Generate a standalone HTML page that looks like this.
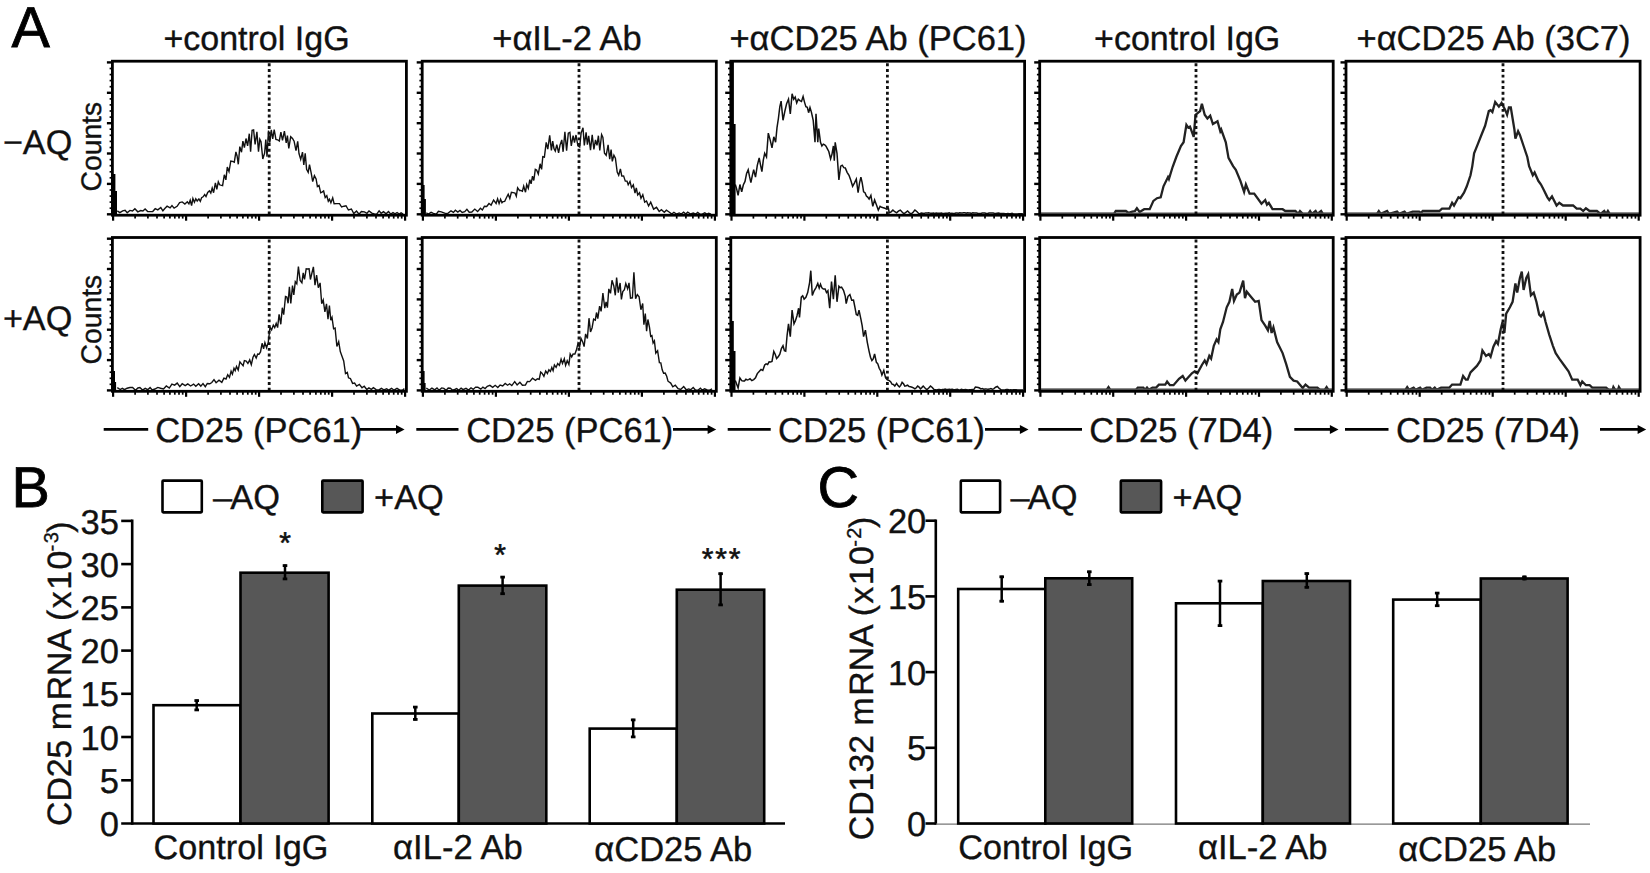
<!DOCTYPE html>
<html lang="en">
<head>
<meta charset="utf-8">
<title>Figure</title>
<style>html,body{margin:0;padding:0;background:#fff;overflow:hidden}svg{display:block;text-rendering:geometricPrecision}</style>
</head>
<body>
<svg width="1650" height="873" viewBox="0 0 1650 873" font-family='"Liberation Sans", Arial, sans-serif' fill="#111" stroke="#111" stroke-width="0">
<rect width="1650" height="873" fill="#fff"/>
<g>
<polyline points="117.3,210.9 119.8,212.6 122.7,210.8 125.1,210.2 127.2,212.7 129.9,210.4 132.5,211 134.9,208.7 137.8,211.8 140.7,210.6 142.9,211 145.1,208.9 147.7,211.6 150.6,211.6 152.7,211.5 155.2,208.7 157.8,209.9 160.8,207.5 162.9,210.8 164.8,208.5 167.1,206.2 170.1,207.9 172,205.5 174.1,208.1 177.1,206.3 179.6,202.6 182.2,201.9 184.9,204 187.3,201.8 188.9,203.9 190.2,200.2 191.6,205.5 192.9,198.5 194.4,202.2 195.8,198.7 197.2,201 198.9,198.9 200.3,201.4 201.6,197.7 203.1,196.8 204.7,194.6 206,196.6 207.7,192.4 209.4,190.8 210.8,193 212.2,188 213.6,192.7 215.4,182.9 216.8,189.4 218.3,181.9 219.6,184.8 220.8,185.2 222.6,185.7 224.3,174.8 225.9,179.8 227.3,167.1 229,171.6 230.8,161 232.5,161.4 234.3,162.2 235.9,151.9 237.1,156 238.3,164.3 239.8,146.6 241.5,152.2 242.9,141.2 244.4,147.7 246,138.5 247.6,145.9 249.3,133.7 250.6,151.8 252.1,130.4 253.6,130 255.1,144.5 256.9,131.9 258.5,151.6 259.8,139.2 261,141.6 262.8,159 264.6,153.2 265.8,139.6 267,156.6 268.5,130.5 269.8,142.7 271.3,129.8 272.7,139 274.2,129.5 275.9,139.4 277.6,139.8 279.3,141 280.9,132.2 282.5,140.4 284.4,131.1 286.2,143 287.4,135.6 288.8,148.4 290.7,136.6 292.5,138.4 294.1,141.2 296,150.6 297.7,141.4 299,153.7 300.7,159.3 302.5,152.1 303.8,165 305.2,153.3 306.6,169.3 308.2,172.3 309.5,164.6 311.3,173.7 312.7,181.6 314.4,175.7 316.1,179 317.4,186.5 319,185.4 320.7,192.8 322,192.1 323.6,191 325.2,197.5 326.8,195.7 328.3,201.2 329.5,199.2 330.9,202.7 332.7,197.8 334.1,203.7 336.8,203.6 339.5,203.6 341.6,207 344.1,206.2 346,205.7 348.4,210 351.4,209 353.8,213.5 356.5,211 359,214.1 361.4,211.5 364.4,211.9 367,213.3 369,210.9 371.8,213.1 374.4,213.9 376.7,214.1 379.1,210.9 381.1,213.3 383.5,211.7 386.1,213.8 388.5,211.5 390.8,214.1 393,212.6 395,213.9 397.1,212.5 399.2,214.1 401.1,212.8 403.1,214.1" fill="none" stroke="#111" stroke-width="1.4" stroke-linejoin="miter" />
<rect x="112.4" y="174" width="3" height="41.2" fill="#000"/>
<rect x="112.4" y="191" width="4.6" height="24.2" fill="#000"/>
<line x1="269.2" y1="63.3" x2="269.2" y2="214.7" stroke="#111" stroke-width="2.8" stroke-dasharray="2.9 2.8"/>
<rect x="112.4" y="61.2" width="294" height="154" fill="none" stroke="#000" stroke-width="2.8"/>
<line x1="106.9" y1="62.4" x2="112.4" y2="62.4" stroke="#000" stroke-width="2.4"/>
<line x1="109.6" y1="68.5" x2="112.4" y2="68.5" stroke="#000" stroke-width="1.7"/>
<line x1="109.6" y1="74.6" x2="112.4" y2="74.6" stroke="#000" stroke-width="1.7"/>
<line x1="109.6" y1="80.6" x2="112.4" y2="80.6" stroke="#000" stroke-width="1.7"/>
<line x1="109.6" y1="86.7" x2="112.4" y2="86.7" stroke="#000" stroke-width="1.7"/>
<line x1="106.9" y1="92.8" x2="112.4" y2="92.8" stroke="#000" stroke-width="2.4"/>
<line x1="109.6" y1="98.9" x2="112.4" y2="98.9" stroke="#000" stroke-width="1.7"/>
<line x1="109.6" y1="104.9" x2="112.4" y2="104.9" stroke="#000" stroke-width="1.7"/>
<line x1="109.6" y1="111" x2="112.4" y2="111" stroke="#000" stroke-width="1.7"/>
<line x1="109.6" y1="117.1" x2="112.4" y2="117.1" stroke="#000" stroke-width="1.7"/>
<line x1="106.9" y1="123.2" x2="112.4" y2="123.2" stroke="#000" stroke-width="2.4"/>
<line x1="109.6" y1="129.2" x2="112.4" y2="129.2" stroke="#000" stroke-width="1.7"/>
<line x1="109.6" y1="135.3" x2="112.4" y2="135.3" stroke="#000" stroke-width="1.7"/>
<line x1="109.6" y1="141.4" x2="112.4" y2="141.4" stroke="#000" stroke-width="1.7"/>
<line x1="109.6" y1="147.5" x2="112.4" y2="147.5" stroke="#000" stroke-width="1.7"/>
<line x1="106.9" y1="153.5" x2="112.4" y2="153.5" stroke="#000" stroke-width="2.4"/>
<line x1="109.6" y1="159.6" x2="112.4" y2="159.6" stroke="#000" stroke-width="1.7"/>
<line x1="109.6" y1="165.7" x2="112.4" y2="165.7" stroke="#000" stroke-width="1.7"/>
<line x1="109.6" y1="171.8" x2="112.4" y2="171.8" stroke="#000" stroke-width="1.7"/>
<line x1="109.6" y1="177.8" x2="112.4" y2="177.8" stroke="#000" stroke-width="1.7"/>
<line x1="106.9" y1="183.9" x2="112.4" y2="183.9" stroke="#000" stroke-width="2.4"/>
<line x1="109.6" y1="190" x2="112.4" y2="190" stroke="#000" stroke-width="1.7"/>
<line x1="109.6" y1="196.1" x2="112.4" y2="196.1" stroke="#000" stroke-width="1.7"/>
<line x1="109.6" y1="202.1" x2="112.4" y2="202.1" stroke="#000" stroke-width="1.7"/>
<line x1="109.6" y1="208.2" x2="112.4" y2="208.2" stroke="#000" stroke-width="1.7"/>
<line x1="106.9" y1="214.3" x2="112.4" y2="214.3" stroke="#000" stroke-width="2.4"/>
<line x1="113.1" y1="215.2" x2="113.1" y2="220.7" stroke="#000" stroke-width="2.2"/>
<line x1="135.1" y1="215.2" x2="135.1" y2="218.6" stroke="#000" stroke-width="1.7"/>
<line x1="147.9" y1="215.2" x2="147.9" y2="218.6" stroke="#000" stroke-width="1.7"/>
<line x1="157" y1="215.2" x2="157" y2="218.6" stroke="#000" stroke-width="1.7"/>
<line x1="164.1" y1="215.2" x2="164.1" y2="218.6" stroke="#000" stroke-width="1.7"/>
<line x1="169.9" y1="215.2" x2="169.9" y2="218.6" stroke="#000" stroke-width="1.7"/>
<line x1="174.8" y1="215.2" x2="174.8" y2="218.6" stroke="#000" stroke-width="1.7"/>
<line x1="179" y1="215.2" x2="179" y2="218.6" stroke="#000" stroke-width="1.7"/>
<line x1="182.7" y1="215.2" x2="182.7" y2="218.6" stroke="#000" stroke-width="1.7"/>
<line x1="186.1" y1="215.2" x2="186.1" y2="220.7" stroke="#000" stroke-width="2.2"/>
<line x1="208.1" y1="215.2" x2="208.1" y2="218.6" stroke="#000" stroke-width="1.7"/>
<line x1="220.9" y1="215.2" x2="220.9" y2="218.6" stroke="#000" stroke-width="1.7"/>
<line x1="230" y1="215.2" x2="230" y2="218.6" stroke="#000" stroke-width="1.7"/>
<line x1="237.1" y1="215.2" x2="237.1" y2="218.6" stroke="#000" stroke-width="1.7"/>
<line x1="242.9" y1="215.2" x2="242.9" y2="218.6" stroke="#000" stroke-width="1.7"/>
<line x1="247.8" y1="215.2" x2="247.8" y2="218.6" stroke="#000" stroke-width="1.7"/>
<line x1="252" y1="215.2" x2="252" y2="218.6" stroke="#000" stroke-width="1.7"/>
<line x1="255.7" y1="215.2" x2="255.7" y2="218.6" stroke="#000" stroke-width="1.7"/>
<line x1="259.1" y1="215.2" x2="259.1" y2="220.7" stroke="#000" stroke-width="2.2"/>
<line x1="281" y1="215.2" x2="281" y2="218.6" stroke="#000" stroke-width="1.7"/>
<line x1="293.9" y1="215.2" x2="293.9" y2="218.6" stroke="#000" stroke-width="1.7"/>
<line x1="303" y1="215.2" x2="303" y2="218.6" stroke="#000" stroke-width="1.7"/>
<line x1="310.1" y1="215.2" x2="310.1" y2="218.6" stroke="#000" stroke-width="1.7"/>
<line x1="315.9" y1="215.2" x2="315.9" y2="218.6" stroke="#000" stroke-width="1.7"/>
<line x1="320.8" y1="215.2" x2="320.8" y2="218.6" stroke="#000" stroke-width="1.7"/>
<line x1="325" y1="215.2" x2="325" y2="218.6" stroke="#000" stroke-width="1.7"/>
<line x1="328.7" y1="215.2" x2="328.7" y2="218.6" stroke="#000" stroke-width="1.7"/>
<line x1="332.1" y1="215.2" x2="332.1" y2="220.7" stroke="#000" stroke-width="2.2"/>
<line x1="354" y1="215.2" x2="354" y2="218.6" stroke="#000" stroke-width="1.7"/>
<line x1="366.9" y1="215.2" x2="366.9" y2="218.6" stroke="#000" stroke-width="1.7"/>
<line x1="376" y1="215.2" x2="376" y2="218.6" stroke="#000" stroke-width="1.7"/>
<line x1="383.1" y1="215.2" x2="383.1" y2="218.6" stroke="#000" stroke-width="1.7"/>
<line x1="388.9" y1="215.2" x2="388.9" y2="218.6" stroke="#000" stroke-width="1.7"/>
<line x1="393.7" y1="215.2" x2="393.7" y2="218.6" stroke="#000" stroke-width="1.7"/>
<line x1="398" y1="215.2" x2="398" y2="218.6" stroke="#000" stroke-width="1.7"/>
<line x1="401.7" y1="215.2" x2="401.7" y2="218.6" stroke="#000" stroke-width="1.7"/>
<line x1="405.1" y1="215.2" x2="405.1" y2="220.7" stroke="#000" stroke-width="2.2"/>
</g>
<g>
<polyline points="426.3,212.8 428.4,214 431.1,212.3 433.4,213.3 436.3,214.1 438.4,211.3 441.3,211.9 443.9,212.8 445.9,213.6 448.2,213.1 451,210.8 453.4,212.4 455.4,210.2 457.8,212.1 460,210.4 462.2,212.4 464.7,211.7 466.9,209.3 469.2,212.3 471.8,212 474.8,209.1 477.6,211.6 480.4,208.2 482.4,210 484.4,206.2 486.7,206.5 489,203.5 491.1,205.1 493.6,200 496.1,203.4 497.6,198.8 499.1,203.6 500.6,199.3 502,202.7 503.2,201.6 504.7,201.4 506.4,197.8 508.2,194.3 509.8,198.5 511.4,192.3 513.2,192.6 515,193 516.3,196.2 517.6,187.8 519.5,190.5 520.7,190.4 522.4,191.2 523.7,186.2 525.5,192.2 526.7,184.6 528.3,188.3 529.8,179.6 531.1,183.8 532.5,176.1 533.8,180.5 535.3,169.4 536.6,170 538.3,174 540.1,163.8 541.6,169.4 542.8,156.7 544.4,157.1 546.2,142.4 547.8,149.2 549.7,135.3 551.4,150.3 552.7,141.1 554,148.7 555.3,151 556.8,144.6 558.6,152.9 560,145.1 561.8,139.9 563.1,151.8 564.9,131.7 566.6,150.8 568.3,133.2 569.9,132.4 571.3,146 573.1,135.6 574.5,142.5 576,135 577.9,145.8 579.7,147 581.1,133.1 583,127.7 584.3,145.5 586.1,132.4 587.4,144.7 588.7,135.8 590.5,150.2 592.2,134.9 593.9,149.5 595.5,139.9 597,145.3 598.4,135.7 599.8,150.5 601.6,134.5 602.9,137.4 604.5,153.2 606.2,155.3 608.1,144.9 609.7,159.1 611.1,149.6 612.3,161.4 613.9,155.2 615.4,158.1 617.2,172 618.7,175.2 620.4,169 621.8,176.1 623.6,175.9 625.3,181.1 627,181.1 628.2,184.8 630,181.4 631.5,187.6 633.3,184.9 635,193.2 636.3,188 637.7,194.9 639.5,192.7 641,198.3 642.8,194.7 644.7,202.1 646.5,201 648.6,206 650.7,202.2 653.6,209.1 656.5,207.3 659.2,211.5 661.4,209.7 664.3,212.3 666.4,210.2 669.1,212 671.8,214.1 673.9,212.3 676.4,214.1 679.2,212.9 681.3,214 683.6,212.2 685.8,214.1 687.7,212.2 690.6,214 693.3,213.1 695.8,214.1 697.7,212.5 699.8,214.1 702.2,214.1 704.8,212.8 706.7,214.1 708.7,213.2 711,214.1" fill="none" stroke="#111" stroke-width="1.4" stroke-linejoin="miter" />
<rect x="422.2" y="185" width="2.4" height="30.2" fill="#000"/>
<rect x="422.2" y="199" width="3.7" height="16.2" fill="#000"/>
<line x1="579" y1="63.3" x2="579" y2="214.7" stroke="#111" stroke-width="2.8" stroke-dasharray="2.9 2.8"/>
<rect x="422.2" y="61.2" width="294.1" height="154" fill="none" stroke="#000" stroke-width="2.8"/>
<line x1="416.7" y1="62.4" x2="422.2" y2="62.4" stroke="#000" stroke-width="2.4"/>
<line x1="419.4" y1="68.5" x2="422.2" y2="68.5" stroke="#000" stroke-width="1.7"/>
<line x1="419.4" y1="74.6" x2="422.2" y2="74.6" stroke="#000" stroke-width="1.7"/>
<line x1="419.4" y1="80.6" x2="422.2" y2="80.6" stroke="#000" stroke-width="1.7"/>
<line x1="419.4" y1="86.7" x2="422.2" y2="86.7" stroke="#000" stroke-width="1.7"/>
<line x1="416.7" y1="92.8" x2="422.2" y2="92.8" stroke="#000" stroke-width="2.4"/>
<line x1="419.4" y1="98.9" x2="422.2" y2="98.9" stroke="#000" stroke-width="1.7"/>
<line x1="419.4" y1="104.9" x2="422.2" y2="104.9" stroke="#000" stroke-width="1.7"/>
<line x1="419.4" y1="111" x2="422.2" y2="111" stroke="#000" stroke-width="1.7"/>
<line x1="419.4" y1="117.1" x2="422.2" y2="117.1" stroke="#000" stroke-width="1.7"/>
<line x1="416.7" y1="123.2" x2="422.2" y2="123.2" stroke="#000" stroke-width="2.4"/>
<line x1="419.4" y1="129.2" x2="422.2" y2="129.2" stroke="#000" stroke-width="1.7"/>
<line x1="419.4" y1="135.3" x2="422.2" y2="135.3" stroke="#000" stroke-width="1.7"/>
<line x1="419.4" y1="141.4" x2="422.2" y2="141.4" stroke="#000" stroke-width="1.7"/>
<line x1="419.4" y1="147.5" x2="422.2" y2="147.5" stroke="#000" stroke-width="1.7"/>
<line x1="416.7" y1="153.5" x2="422.2" y2="153.5" stroke="#000" stroke-width="2.4"/>
<line x1="419.4" y1="159.6" x2="422.2" y2="159.6" stroke="#000" stroke-width="1.7"/>
<line x1="419.4" y1="165.7" x2="422.2" y2="165.7" stroke="#000" stroke-width="1.7"/>
<line x1="419.4" y1="171.8" x2="422.2" y2="171.8" stroke="#000" stroke-width="1.7"/>
<line x1="419.4" y1="177.8" x2="422.2" y2="177.8" stroke="#000" stroke-width="1.7"/>
<line x1="416.7" y1="183.9" x2="422.2" y2="183.9" stroke="#000" stroke-width="2.4"/>
<line x1="419.4" y1="190" x2="422.2" y2="190" stroke="#000" stroke-width="1.7"/>
<line x1="419.4" y1="196.1" x2="422.2" y2="196.1" stroke="#000" stroke-width="1.7"/>
<line x1="419.4" y1="202.1" x2="422.2" y2="202.1" stroke="#000" stroke-width="1.7"/>
<line x1="419.4" y1="208.2" x2="422.2" y2="208.2" stroke="#000" stroke-width="1.7"/>
<line x1="416.7" y1="214.3" x2="422.2" y2="214.3" stroke="#000" stroke-width="2.4"/>
<line x1="422.9" y1="215.2" x2="422.9" y2="220.7" stroke="#000" stroke-width="2.2"/>
<line x1="444.9" y1="215.2" x2="444.9" y2="218.6" stroke="#000" stroke-width="1.7"/>
<line x1="457.7" y1="215.2" x2="457.7" y2="218.6" stroke="#000" stroke-width="1.7"/>
<line x1="466.9" y1="215.2" x2="466.9" y2="218.6" stroke="#000" stroke-width="1.7"/>
<line x1="473.9" y1="215.2" x2="473.9" y2="218.6" stroke="#000" stroke-width="1.7"/>
<line x1="479.7" y1="215.2" x2="479.7" y2="218.6" stroke="#000" stroke-width="1.7"/>
<line x1="484.6" y1="215.2" x2="484.6" y2="218.6" stroke="#000" stroke-width="1.7"/>
<line x1="488.8" y1="215.2" x2="488.8" y2="218.6" stroke="#000" stroke-width="1.7"/>
<line x1="492.6" y1="215.2" x2="492.6" y2="218.6" stroke="#000" stroke-width="1.7"/>
<line x1="495.9" y1="215.2" x2="495.9" y2="220.7" stroke="#000" stroke-width="2.2"/>
<line x1="517.9" y1="215.2" x2="517.9" y2="218.6" stroke="#000" stroke-width="1.7"/>
<line x1="530.7" y1="215.2" x2="530.7" y2="218.6" stroke="#000" stroke-width="1.7"/>
<line x1="539.9" y1="215.2" x2="539.9" y2="218.6" stroke="#000" stroke-width="1.7"/>
<line x1="546.9" y1="215.2" x2="546.9" y2="218.6" stroke="#000" stroke-width="1.7"/>
<line x1="552.7" y1="215.2" x2="552.7" y2="218.6" stroke="#000" stroke-width="1.7"/>
<line x1="557.6" y1="215.2" x2="557.6" y2="218.6" stroke="#000" stroke-width="1.7"/>
<line x1="561.8" y1="215.2" x2="561.8" y2="218.6" stroke="#000" stroke-width="1.7"/>
<line x1="565.6" y1="215.2" x2="565.6" y2="218.6" stroke="#000" stroke-width="1.7"/>
<line x1="568.9" y1="215.2" x2="568.9" y2="220.7" stroke="#000" stroke-width="2.2"/>
<line x1="590.9" y1="215.2" x2="590.9" y2="218.6" stroke="#000" stroke-width="1.7"/>
<line x1="603.7" y1="215.2" x2="603.7" y2="218.6" stroke="#000" stroke-width="1.7"/>
<line x1="612.9" y1="215.2" x2="612.9" y2="218.6" stroke="#000" stroke-width="1.7"/>
<line x1="619.9" y1="215.2" x2="619.9" y2="218.6" stroke="#000" stroke-width="1.7"/>
<line x1="625.7" y1="215.2" x2="625.7" y2="218.6" stroke="#000" stroke-width="1.7"/>
<line x1="630.6" y1="215.2" x2="630.6" y2="218.6" stroke="#000" stroke-width="1.7"/>
<line x1="634.8" y1="215.2" x2="634.8" y2="218.6" stroke="#000" stroke-width="1.7"/>
<line x1="638.6" y1="215.2" x2="638.6" y2="218.6" stroke="#000" stroke-width="1.7"/>
<line x1="641.9" y1="215.2" x2="641.9" y2="220.7" stroke="#000" stroke-width="2.2"/>
<line x1="663.9" y1="215.2" x2="663.9" y2="218.6" stroke="#000" stroke-width="1.7"/>
<line x1="676.7" y1="215.2" x2="676.7" y2="218.6" stroke="#000" stroke-width="1.7"/>
<line x1="685.9" y1="215.2" x2="685.9" y2="218.6" stroke="#000" stroke-width="1.7"/>
<line x1="692.9" y1="215.2" x2="692.9" y2="218.6" stroke="#000" stroke-width="1.7"/>
<line x1="698.7" y1="215.2" x2="698.7" y2="218.6" stroke="#000" stroke-width="1.7"/>
<line x1="703.6" y1="215.2" x2="703.6" y2="218.6" stroke="#000" stroke-width="1.7"/>
<line x1="707.8" y1="215.2" x2="707.8" y2="218.6" stroke="#000" stroke-width="1.7"/>
<line x1="711.6" y1="215.2" x2="711.6" y2="218.6" stroke="#000" stroke-width="1.7"/>
<line x1="714.9" y1="215.2" x2="714.9" y2="220.7" stroke="#000" stroke-width="2.2"/>
</g>
<g>
<polyline points="735.3,184.5 736.7,189.3 738.1,195.4 739.9,184.5 741.7,191.8 743.3,185 745,181.4 746.6,173.4 748.2,169.8 749.5,176.4 750.9,182.6 752.3,175.6 753.7,169.8 755.5,177.1 757.3,165.4 759.2,157.9 760.5,164.8 761.9,171.6 763.3,160.1 764.7,153.3 766.5,157 768.3,133.1 770.2,140.1 772,147.8 773.8,136.8 775.6,142.3 777,127.6 778.4,118.5 779.8,106.8 781.1,101.1 783,120.3 784.8,111.5 786.6,103.8 788.5,99.2 790.3,113.9 792.1,93.7 793.7,99.3 795.2,97 796.7,102.9 798.3,99.2 799.9,100.6 801.5,101.5 803.1,96.5 804.5,102.1 805.9,106.6 807.3,107.2 808.6,112.7 810,107.5 811.4,112.1 813.2,120.3 815,142.3 816,113.9 817.8,142.3 818.7,128.6 820.5,142.3 821.9,145.9 823.3,144.1 824.7,144.8 826,146.2 827.4,148.9 828.8,151.5 830.6,158.8 832,154.1 833.4,146 834.3,160.6 835.2,142.3 837,153.3 838.9,179.9 840.7,166.1 842.2,165.2 843.8,167.7 845.3,168 847.1,172.3 849,175.3 850.8,180.3 852.6,186.3 854.5,182.8 856.3,179 858.1,192.7 859.5,183.2 860.9,177.1 862.2,182.8 863.6,191.8 865,192.7 866.4,196 867.7,197.1 869.1,199.1 870.9,195.4 872.8,206.4 874.6,200 876.4,204.7 878.3,210.1 880.1,206.4 881.7,207.3 883.3,207.7 884.9,208.2 886.5,209.2 888.4,208.3 889.3,212.9 891.1,211.8 892.9,210.1 894.8,211.7 896.6,212.9 898.4,211.2 900.3,210.1 902.1,212 903.9,213.8 905.8,212.4 907.6,211 909.4,212.8 911.3,213.8 913.1,212.2 914.9,210.1 916.8,211.5 918.6,213.4 920,213.7 921.3,213 922.7,213.2 924.1,213.4 925.5,212.9 926.8,213.1 928.2,212.7 929.6,213 930.9,213.2 932.2,213.3 933.5,213.1 934.8,213.4 936.1,213 937.4,213.3 938.8,213.2 940.1,213.2 941.4,213.1 942.7,213.4 944,213.5 945.3,213.2 946.6,213.3 947.9,213.2 949.2,212.9 950.5,213.4 951.8,213.3 953.2,213.6 954.5,213.4 955.8,213 957.1,213.1 958.4,213.3 959.7,212.8 961,213.1 962.3,212.9 963.6,212.8 964.9,212.8 966.2,213.3 967.5,212.8 968.9,212.9 970.2,213 971.5,213.4 972.8,212.7 974.1,213 975.4,213 976.8,213.1 978.1,213.4 979.5,213.4 980.8,213.4 982.2,213 983.5,213.1 984.9,213.1 986.2,213.5 987.6,213.6 988.9,213 990.3,213 991.6,213.1 993,213.1 994.3,213.3 995.7,213.4 997,213.2 998.4,213 999.7,213.3 1001.1,213.4 1002.4,213.4 1003.8,213.5 1005.2,213.8 1006.6,213.7 1007.9,213.6 1009.3,213.7 1010.7,213.8 1012.1,213.4 1013.4,213.9 1014.8,213.9 1016.2,214 1017.6,214 1018.9,213.8 1020.3,213.8 1021.7,213.7 1023.1,214" fill="none" stroke="#111" stroke-width="1.5" stroke-linejoin="miter" />
<rect x="730.8" y="61.2" width="3.1" height="154" fill="#000"/>
<rect x="730.8" y="124" width="4.8" height="91.2" fill="#000"/>
<line x1="887.4" y1="63.3" x2="887.4" y2="214.7" stroke="#111" stroke-width="2.8" stroke-dasharray="2.9 2.8"/>
<rect x="730.8" y="61.2" width="293.8" height="154" fill="none" stroke="#000" stroke-width="2.8"/>
<line x1="725.2" y1="62.4" x2="730.8" y2="62.4" stroke="#000" stroke-width="2.4"/>
<line x1="728" y1="68.5" x2="730.8" y2="68.5" stroke="#000" stroke-width="1.7"/>
<line x1="728" y1="74.6" x2="730.8" y2="74.6" stroke="#000" stroke-width="1.7"/>
<line x1="728" y1="80.6" x2="730.8" y2="80.6" stroke="#000" stroke-width="1.7"/>
<line x1="728" y1="86.7" x2="730.8" y2="86.7" stroke="#000" stroke-width="1.7"/>
<line x1="725.2" y1="92.8" x2="730.8" y2="92.8" stroke="#000" stroke-width="2.4"/>
<line x1="728" y1="98.9" x2="730.8" y2="98.9" stroke="#000" stroke-width="1.7"/>
<line x1="728" y1="104.9" x2="730.8" y2="104.9" stroke="#000" stroke-width="1.7"/>
<line x1="728" y1="111" x2="730.8" y2="111" stroke="#000" stroke-width="1.7"/>
<line x1="728" y1="117.1" x2="730.8" y2="117.1" stroke="#000" stroke-width="1.7"/>
<line x1="725.2" y1="123.2" x2="730.8" y2="123.2" stroke="#000" stroke-width="2.4"/>
<line x1="728" y1="129.2" x2="730.8" y2="129.2" stroke="#000" stroke-width="1.7"/>
<line x1="728" y1="135.3" x2="730.8" y2="135.3" stroke="#000" stroke-width="1.7"/>
<line x1="728" y1="141.4" x2="730.8" y2="141.4" stroke="#000" stroke-width="1.7"/>
<line x1="728" y1="147.5" x2="730.8" y2="147.5" stroke="#000" stroke-width="1.7"/>
<line x1="725.2" y1="153.5" x2="730.8" y2="153.5" stroke="#000" stroke-width="2.4"/>
<line x1="728" y1="159.6" x2="730.8" y2="159.6" stroke="#000" stroke-width="1.7"/>
<line x1="728" y1="165.7" x2="730.8" y2="165.7" stroke="#000" stroke-width="1.7"/>
<line x1="728" y1="171.8" x2="730.8" y2="171.8" stroke="#000" stroke-width="1.7"/>
<line x1="728" y1="177.8" x2="730.8" y2="177.8" stroke="#000" stroke-width="1.7"/>
<line x1="725.2" y1="183.9" x2="730.8" y2="183.9" stroke="#000" stroke-width="2.4"/>
<line x1="728" y1="190" x2="730.8" y2="190" stroke="#000" stroke-width="1.7"/>
<line x1="728" y1="196.1" x2="730.8" y2="196.1" stroke="#000" stroke-width="1.7"/>
<line x1="728" y1="202.1" x2="730.8" y2="202.1" stroke="#000" stroke-width="1.7"/>
<line x1="728" y1="208.2" x2="730.8" y2="208.2" stroke="#000" stroke-width="1.7"/>
<line x1="725.2" y1="214.3" x2="730.8" y2="214.3" stroke="#000" stroke-width="2.4"/>
<line x1="731.5" y1="215.2" x2="731.5" y2="220.7" stroke="#000" stroke-width="2.2"/>
<line x1="753.4" y1="215.2" x2="753.4" y2="218.6" stroke="#000" stroke-width="1.7"/>
<line x1="766.2" y1="215.2" x2="766.2" y2="218.6" stroke="#000" stroke-width="1.7"/>
<line x1="775.4" y1="215.2" x2="775.4" y2="218.6" stroke="#000" stroke-width="1.7"/>
<line x1="782.4" y1="215.2" x2="782.4" y2="218.6" stroke="#000" stroke-width="1.7"/>
<line x1="788.2" y1="215.2" x2="788.2" y2="218.6" stroke="#000" stroke-width="1.7"/>
<line x1="793.1" y1="215.2" x2="793.1" y2="218.6" stroke="#000" stroke-width="1.7"/>
<line x1="797.3" y1="215.2" x2="797.3" y2="218.6" stroke="#000" stroke-width="1.7"/>
<line x1="801" y1="215.2" x2="801" y2="218.6" stroke="#000" stroke-width="1.7"/>
<line x1="804.4" y1="215.2" x2="804.4" y2="220.7" stroke="#000" stroke-width="2.2"/>
<line x1="826.3" y1="215.2" x2="826.3" y2="218.6" stroke="#000" stroke-width="1.7"/>
<line x1="839.2" y1="215.2" x2="839.2" y2="218.6" stroke="#000" stroke-width="1.7"/>
<line x1="848.3" y1="215.2" x2="848.3" y2="218.6" stroke="#000" stroke-width="1.7"/>
<line x1="855.3" y1="215.2" x2="855.3" y2="218.6" stroke="#000" stroke-width="1.7"/>
<line x1="861.1" y1="215.2" x2="861.1" y2="218.6" stroke="#000" stroke-width="1.7"/>
<line x1="866" y1="215.2" x2="866" y2="218.6" stroke="#000" stroke-width="1.7"/>
<line x1="870.2" y1="215.2" x2="870.2" y2="218.6" stroke="#000" stroke-width="1.7"/>
<line x1="874" y1="215.2" x2="874" y2="218.6" stroke="#000" stroke-width="1.7"/>
<line x1="877.3" y1="215.2" x2="877.3" y2="220.7" stroke="#000" stroke-width="2.2"/>
<line x1="899.3" y1="215.2" x2="899.3" y2="218.6" stroke="#000" stroke-width="1.7"/>
<line x1="912.1" y1="215.2" x2="912.1" y2="218.6" stroke="#000" stroke-width="1.7"/>
<line x1="921.2" y1="215.2" x2="921.2" y2="218.6" stroke="#000" stroke-width="1.7"/>
<line x1="928.3" y1="215.2" x2="928.3" y2="218.6" stroke="#000" stroke-width="1.7"/>
<line x1="934" y1="215.2" x2="934" y2="218.6" stroke="#000" stroke-width="1.7"/>
<line x1="938.9" y1="215.2" x2="938.9" y2="218.6" stroke="#000" stroke-width="1.7"/>
<line x1="943.2" y1="215.2" x2="943.2" y2="218.6" stroke="#000" stroke-width="1.7"/>
<line x1="946.9" y1="215.2" x2="946.9" y2="218.6" stroke="#000" stroke-width="1.7"/>
<line x1="950.2" y1="215.2" x2="950.2" y2="220.7" stroke="#000" stroke-width="2.2"/>
<line x1="972.2" y1="215.2" x2="972.2" y2="218.6" stroke="#000" stroke-width="1.7"/>
<line x1="985" y1="215.2" x2="985" y2="218.6" stroke="#000" stroke-width="1.7"/>
<line x1="994.1" y1="215.2" x2="994.1" y2="218.6" stroke="#000" stroke-width="1.7"/>
<line x1="1001.2" y1="215.2" x2="1001.2" y2="218.6" stroke="#000" stroke-width="1.7"/>
<line x1="1007" y1="215.2" x2="1007" y2="218.6" stroke="#000" stroke-width="1.7"/>
<line x1="1011.9" y1="215.2" x2="1011.9" y2="218.6" stroke="#000" stroke-width="1.7"/>
<line x1="1016.1" y1="215.2" x2="1016.1" y2="218.6" stroke="#000" stroke-width="1.7"/>
<line x1="1019.8" y1="215.2" x2="1019.8" y2="218.6" stroke="#000" stroke-width="1.7"/>
<line x1="1023.1" y1="215.2" x2="1023.1" y2="220.7" stroke="#000" stroke-width="2.2"/>
</g>
<g>
<polyline points="1040.7,213.8 1114,213.8 1115.8,211 1125.9,211 1128.6,212.9 1132.3,211.6 1135,211 1136.9,208.3 1139.6,211.9 1144.2,209.2 1149.7,209.2 1153.4,200.9 1157,198.2 1160.7,197.3 1163.5,186.3 1168,177.1 1168.9,179 1172.6,167 1176.3,157 1180.9,146 1183.6,142.3 1186.4,124.9 1188.2,127.6 1190,126.7 1193.7,136.8 1195.5,114.8 1200.1,111.1 1201.9,103.8 1204.7,114.8 1207.4,118.5 1210.2,115.7 1212.9,124 1217.5,121.2 1220.3,131.3 1221.2,129.5 1225.8,142.3 1228.5,157.9 1233.1,166.1 1235.8,169.8 1240.4,180.8 1244.1,191.8 1245.9,184.5 1249.6,193.6 1254.2,193.6 1261.5,203.7 1265.2,200 1267,204.6 1268.8,202.8 1272.5,209.2 1282.6,209.2 1285.3,211 1295.4,211 1298.1,213.8 1300,211 1302.7,213.8 1308.2,213.8 1310.1,211 1311.9,213.8 1315.6,211 1317.4,213.8 1321.1,211 1322.9,213.8 1332.1,213.8" fill="none" stroke="#222" stroke-width="2.3" stroke-linejoin="miter" stroke-linecap="round" stroke-linejoin="round"/>
<line x1="1039.7" y1="213.4" x2="1333.2" y2="213.4" stroke="#555" stroke-width="2"/>
<line x1="1196" y1="63.3" x2="1196" y2="214.7" stroke="#111" stroke-width="2.8" stroke-dasharray="2.9 2.8"/>
<rect x="1039.7" y="61.2" width="293.5" height="154" fill="none" stroke="#000" stroke-width="2.8"/>
<line x1="1034.2" y1="62.4" x2="1039.7" y2="62.4" stroke="#000" stroke-width="2.4"/>
<line x1="1036.9" y1="68.5" x2="1039.7" y2="68.5" stroke="#000" stroke-width="1.7"/>
<line x1="1036.9" y1="74.6" x2="1039.7" y2="74.6" stroke="#000" stroke-width="1.7"/>
<line x1="1036.9" y1="80.6" x2="1039.7" y2="80.6" stroke="#000" stroke-width="1.7"/>
<line x1="1036.9" y1="86.7" x2="1039.7" y2="86.7" stroke="#000" stroke-width="1.7"/>
<line x1="1034.2" y1="92.8" x2="1039.7" y2="92.8" stroke="#000" stroke-width="2.4"/>
<line x1="1036.9" y1="98.9" x2="1039.7" y2="98.9" stroke="#000" stroke-width="1.7"/>
<line x1="1036.9" y1="104.9" x2="1039.7" y2="104.9" stroke="#000" stroke-width="1.7"/>
<line x1="1036.9" y1="111" x2="1039.7" y2="111" stroke="#000" stroke-width="1.7"/>
<line x1="1036.9" y1="117.1" x2="1039.7" y2="117.1" stroke="#000" stroke-width="1.7"/>
<line x1="1034.2" y1="123.2" x2="1039.7" y2="123.2" stroke="#000" stroke-width="2.4"/>
<line x1="1036.9" y1="129.2" x2="1039.7" y2="129.2" stroke="#000" stroke-width="1.7"/>
<line x1="1036.9" y1="135.3" x2="1039.7" y2="135.3" stroke="#000" stroke-width="1.7"/>
<line x1="1036.9" y1="141.4" x2="1039.7" y2="141.4" stroke="#000" stroke-width="1.7"/>
<line x1="1036.9" y1="147.5" x2="1039.7" y2="147.5" stroke="#000" stroke-width="1.7"/>
<line x1="1034.2" y1="153.5" x2="1039.7" y2="153.5" stroke="#000" stroke-width="2.4"/>
<line x1="1036.9" y1="159.6" x2="1039.7" y2="159.6" stroke="#000" stroke-width="1.7"/>
<line x1="1036.9" y1="165.7" x2="1039.7" y2="165.7" stroke="#000" stroke-width="1.7"/>
<line x1="1036.9" y1="171.8" x2="1039.7" y2="171.8" stroke="#000" stroke-width="1.7"/>
<line x1="1036.9" y1="177.8" x2="1039.7" y2="177.8" stroke="#000" stroke-width="1.7"/>
<line x1="1034.2" y1="183.9" x2="1039.7" y2="183.9" stroke="#000" stroke-width="2.4"/>
<line x1="1036.9" y1="190" x2="1039.7" y2="190" stroke="#000" stroke-width="1.7"/>
<line x1="1036.9" y1="196.1" x2="1039.7" y2="196.1" stroke="#000" stroke-width="1.7"/>
<line x1="1036.9" y1="202.1" x2="1039.7" y2="202.1" stroke="#000" stroke-width="1.7"/>
<line x1="1036.9" y1="208.2" x2="1039.7" y2="208.2" stroke="#000" stroke-width="1.7"/>
<line x1="1034.2" y1="214.3" x2="1039.7" y2="214.3" stroke="#000" stroke-width="2.4"/>
<line x1="1040.4" y1="215.2" x2="1040.4" y2="220.7" stroke="#000" stroke-width="2.2"/>
<line x1="1062.3" y1="215.2" x2="1062.3" y2="218.6" stroke="#000" stroke-width="1.7"/>
<line x1="1075.2" y1="215.2" x2="1075.2" y2="218.6" stroke="#000" stroke-width="1.7"/>
<line x1="1084.3" y1="215.2" x2="1084.3" y2="218.6" stroke="#000" stroke-width="1.7"/>
<line x1="1091.3" y1="215.2" x2="1091.3" y2="218.6" stroke="#000" stroke-width="1.7"/>
<line x1="1097.1" y1="215.2" x2="1097.1" y2="218.6" stroke="#000" stroke-width="1.7"/>
<line x1="1102" y1="215.2" x2="1102" y2="218.6" stroke="#000" stroke-width="1.7"/>
<line x1="1106.2" y1="215.2" x2="1106.2" y2="218.6" stroke="#000" stroke-width="1.7"/>
<line x1="1109.9" y1="215.2" x2="1109.9" y2="218.6" stroke="#000" stroke-width="1.7"/>
<line x1="1113.2" y1="215.2" x2="1113.2" y2="220.7" stroke="#000" stroke-width="2.2"/>
<line x1="1135.2" y1="215.2" x2="1135.2" y2="218.6" stroke="#000" stroke-width="1.7"/>
<line x1="1148" y1="215.2" x2="1148" y2="218.6" stroke="#000" stroke-width="1.7"/>
<line x1="1157.1" y1="215.2" x2="1157.1" y2="218.6" stroke="#000" stroke-width="1.7"/>
<line x1="1164.2" y1="215.2" x2="1164.2" y2="218.6" stroke="#000" stroke-width="1.7"/>
<line x1="1169.9" y1="215.2" x2="1169.9" y2="218.6" stroke="#000" stroke-width="1.7"/>
<line x1="1174.8" y1="215.2" x2="1174.8" y2="218.6" stroke="#000" stroke-width="1.7"/>
<line x1="1179" y1="215.2" x2="1179" y2="218.6" stroke="#000" stroke-width="1.7"/>
<line x1="1182.8" y1="215.2" x2="1182.8" y2="218.6" stroke="#000" stroke-width="1.7"/>
<line x1="1186.1" y1="215.2" x2="1186.1" y2="220.7" stroke="#000" stroke-width="2.2"/>
<line x1="1208" y1="215.2" x2="1208" y2="218.6" stroke="#000" stroke-width="1.7"/>
<line x1="1220.9" y1="215.2" x2="1220.9" y2="218.6" stroke="#000" stroke-width="1.7"/>
<line x1="1230" y1="215.2" x2="1230" y2="218.6" stroke="#000" stroke-width="1.7"/>
<line x1="1237" y1="215.2" x2="1237" y2="218.6" stroke="#000" stroke-width="1.7"/>
<line x1="1242.8" y1="215.2" x2="1242.8" y2="218.6" stroke="#000" stroke-width="1.7"/>
<line x1="1247.7" y1="215.2" x2="1247.7" y2="218.6" stroke="#000" stroke-width="1.7"/>
<line x1="1251.9" y1="215.2" x2="1251.9" y2="218.6" stroke="#000" stroke-width="1.7"/>
<line x1="1255.6" y1="215.2" x2="1255.6" y2="218.6" stroke="#000" stroke-width="1.7"/>
<line x1="1259" y1="215.2" x2="1259" y2="220.7" stroke="#000" stroke-width="2.2"/>
<line x1="1280.9" y1="215.2" x2="1280.9" y2="218.6" stroke="#000" stroke-width="1.7"/>
<line x1="1293.7" y1="215.2" x2="1293.7" y2="218.6" stroke="#000" stroke-width="1.7"/>
<line x1="1302.8" y1="215.2" x2="1302.8" y2="218.6" stroke="#000" stroke-width="1.7"/>
<line x1="1309.9" y1="215.2" x2="1309.9" y2="218.6" stroke="#000" stroke-width="1.7"/>
<line x1="1315.6" y1="215.2" x2="1315.6" y2="218.6" stroke="#000" stroke-width="1.7"/>
<line x1="1320.5" y1="215.2" x2="1320.5" y2="218.6" stroke="#000" stroke-width="1.7"/>
<line x1="1324.7" y1="215.2" x2="1324.7" y2="218.6" stroke="#000" stroke-width="1.7"/>
<line x1="1328.5" y1="215.2" x2="1328.5" y2="218.6" stroke="#000" stroke-width="1.7"/>
<line x1="1331.8" y1="215.2" x2="1331.8" y2="220.7" stroke="#000" stroke-width="2.2"/>
</g>
<g>
<polyline points="1347.7,213.8 1377,213.8 1378.8,211 1380.7,213.8 1387.1,211 1388.9,213.8 1397.1,211.6 1399,213.8 1404.5,211.6 1406.3,213.8 1412.7,211.6 1419.1,211.6 1421,212.9 1422.8,211 1439.3,211 1442,208.6 1449.4,208.6 1452.1,202.8 1454,205.5 1458.5,197.3 1460.4,198.2 1464,192.7 1466.8,186.3 1470.5,175.3 1472.3,166.1 1474.1,153.3 1477.8,144.1 1481.4,135 1485.1,125.8 1488.8,111.1 1490.6,110.2 1492.4,112.1 1495.2,102 1498.9,106.6 1501.6,102.9 1505.3,110.2 1507.1,114.8 1508.9,107.5 1510.8,107.5 1512.6,118.5 1514.4,129.5 1515.4,138.6 1518.1,131.3 1519.9,135 1523.6,146 1527.3,157 1529.1,166.1 1532.8,175.3 1534.6,172.5 1538.3,180.8 1541,184.5 1543.8,189.9 1547.4,197.3 1549.3,200 1552,196.4 1556.6,205.5 1559.3,202.8 1563,205.5 1573.1,205.5 1576.7,208.6 1580.4,208.6 1583.2,211 1585.9,208.3 1589.6,211 1596.9,211 1600.6,213.8 1604.2,211 1606.1,213.8 1607.9,211 1609.7,213.8 1639.1,213.8" fill="none" stroke="#222" stroke-width="2.3" stroke-linejoin="miter" stroke-linecap="round" stroke-linejoin="round"/>
<line x1="1346" y1="213.4" x2="1640.1" y2="213.4" stroke="#555" stroke-width="2"/>
<line x1="1503" y1="63.3" x2="1503" y2="214.7" stroke="#111" stroke-width="2.8" stroke-dasharray="2.9 2.8"/>
<rect x="1346" y="61.2" width="294.1" height="154" fill="none" stroke="#000" stroke-width="2.8"/>
<line x1="1340.5" y1="62.4" x2="1346" y2="62.4" stroke="#000" stroke-width="2.4"/>
<line x1="1343.2" y1="68.5" x2="1346" y2="68.5" stroke="#000" stroke-width="1.7"/>
<line x1="1343.2" y1="74.6" x2="1346" y2="74.6" stroke="#000" stroke-width="1.7"/>
<line x1="1343.2" y1="80.6" x2="1346" y2="80.6" stroke="#000" stroke-width="1.7"/>
<line x1="1343.2" y1="86.7" x2="1346" y2="86.7" stroke="#000" stroke-width="1.7"/>
<line x1="1340.5" y1="92.8" x2="1346" y2="92.8" stroke="#000" stroke-width="2.4"/>
<line x1="1343.2" y1="98.9" x2="1346" y2="98.9" stroke="#000" stroke-width="1.7"/>
<line x1="1343.2" y1="104.9" x2="1346" y2="104.9" stroke="#000" stroke-width="1.7"/>
<line x1="1343.2" y1="111" x2="1346" y2="111" stroke="#000" stroke-width="1.7"/>
<line x1="1343.2" y1="117.1" x2="1346" y2="117.1" stroke="#000" stroke-width="1.7"/>
<line x1="1340.5" y1="123.2" x2="1346" y2="123.2" stroke="#000" stroke-width="2.4"/>
<line x1="1343.2" y1="129.2" x2="1346" y2="129.2" stroke="#000" stroke-width="1.7"/>
<line x1="1343.2" y1="135.3" x2="1346" y2="135.3" stroke="#000" stroke-width="1.7"/>
<line x1="1343.2" y1="141.4" x2="1346" y2="141.4" stroke="#000" stroke-width="1.7"/>
<line x1="1343.2" y1="147.5" x2="1346" y2="147.5" stroke="#000" stroke-width="1.7"/>
<line x1="1340.5" y1="153.5" x2="1346" y2="153.5" stroke="#000" stroke-width="2.4"/>
<line x1="1343.2" y1="159.6" x2="1346" y2="159.6" stroke="#000" stroke-width="1.7"/>
<line x1="1343.2" y1="165.7" x2="1346" y2="165.7" stroke="#000" stroke-width="1.7"/>
<line x1="1343.2" y1="171.8" x2="1346" y2="171.8" stroke="#000" stroke-width="1.7"/>
<line x1="1343.2" y1="177.8" x2="1346" y2="177.8" stroke="#000" stroke-width="1.7"/>
<line x1="1340.5" y1="183.9" x2="1346" y2="183.9" stroke="#000" stroke-width="2.4"/>
<line x1="1343.2" y1="190" x2="1346" y2="190" stroke="#000" stroke-width="1.7"/>
<line x1="1343.2" y1="196.1" x2="1346" y2="196.1" stroke="#000" stroke-width="1.7"/>
<line x1="1343.2" y1="202.1" x2="1346" y2="202.1" stroke="#000" stroke-width="1.7"/>
<line x1="1343.2" y1="208.2" x2="1346" y2="208.2" stroke="#000" stroke-width="1.7"/>
<line x1="1340.5" y1="214.3" x2="1346" y2="214.3" stroke="#000" stroke-width="2.4"/>
<line x1="1346.7" y1="215.2" x2="1346.7" y2="220.7" stroke="#000" stroke-width="2.2"/>
<line x1="1368.7" y1="215.2" x2="1368.7" y2="218.6" stroke="#000" stroke-width="1.7"/>
<line x1="1381.5" y1="215.2" x2="1381.5" y2="218.6" stroke="#000" stroke-width="1.7"/>
<line x1="1390.7" y1="215.2" x2="1390.7" y2="218.6" stroke="#000" stroke-width="1.7"/>
<line x1="1397.7" y1="215.2" x2="1397.7" y2="218.6" stroke="#000" stroke-width="1.7"/>
<line x1="1403.5" y1="215.2" x2="1403.5" y2="218.6" stroke="#000" stroke-width="1.7"/>
<line x1="1408.4" y1="215.2" x2="1408.4" y2="218.6" stroke="#000" stroke-width="1.7"/>
<line x1="1412.6" y1="215.2" x2="1412.6" y2="218.6" stroke="#000" stroke-width="1.7"/>
<line x1="1416.4" y1="215.2" x2="1416.4" y2="218.6" stroke="#000" stroke-width="1.7"/>
<line x1="1419.7" y1="215.2" x2="1419.7" y2="220.7" stroke="#000" stroke-width="2.2"/>
<line x1="1441.7" y1="215.2" x2="1441.7" y2="218.6" stroke="#000" stroke-width="1.7"/>
<line x1="1454.5" y1="215.2" x2="1454.5" y2="218.6" stroke="#000" stroke-width="1.7"/>
<line x1="1463.7" y1="215.2" x2="1463.7" y2="218.6" stroke="#000" stroke-width="1.7"/>
<line x1="1470.7" y1="215.2" x2="1470.7" y2="218.6" stroke="#000" stroke-width="1.7"/>
<line x1="1476.5" y1="215.2" x2="1476.5" y2="218.6" stroke="#000" stroke-width="1.7"/>
<line x1="1481.4" y1="215.2" x2="1481.4" y2="218.6" stroke="#000" stroke-width="1.7"/>
<line x1="1485.6" y1="215.2" x2="1485.6" y2="218.6" stroke="#000" stroke-width="1.7"/>
<line x1="1489.4" y1="215.2" x2="1489.4" y2="218.6" stroke="#000" stroke-width="1.7"/>
<line x1="1492.7" y1="215.2" x2="1492.7" y2="220.7" stroke="#000" stroke-width="2.2"/>
<line x1="1514.7" y1="215.2" x2="1514.7" y2="218.6" stroke="#000" stroke-width="1.7"/>
<line x1="1527.5" y1="215.2" x2="1527.5" y2="218.6" stroke="#000" stroke-width="1.7"/>
<line x1="1536.7" y1="215.2" x2="1536.7" y2="218.6" stroke="#000" stroke-width="1.7"/>
<line x1="1543.7" y1="215.2" x2="1543.7" y2="218.6" stroke="#000" stroke-width="1.7"/>
<line x1="1549.5" y1="215.2" x2="1549.5" y2="218.6" stroke="#000" stroke-width="1.7"/>
<line x1="1554.4" y1="215.2" x2="1554.4" y2="218.6" stroke="#000" stroke-width="1.7"/>
<line x1="1558.6" y1="215.2" x2="1558.6" y2="218.6" stroke="#000" stroke-width="1.7"/>
<line x1="1562.4" y1="215.2" x2="1562.4" y2="218.6" stroke="#000" stroke-width="1.7"/>
<line x1="1565.7" y1="215.2" x2="1565.7" y2="220.7" stroke="#000" stroke-width="2.2"/>
<line x1="1587.7" y1="215.2" x2="1587.7" y2="218.6" stroke="#000" stroke-width="1.7"/>
<line x1="1600.5" y1="215.2" x2="1600.5" y2="218.6" stroke="#000" stroke-width="1.7"/>
<line x1="1609.7" y1="215.2" x2="1609.7" y2="218.6" stroke="#000" stroke-width="1.7"/>
<line x1="1616.7" y1="215.2" x2="1616.7" y2="218.6" stroke="#000" stroke-width="1.7"/>
<line x1="1622.5" y1="215.2" x2="1622.5" y2="218.6" stroke="#000" stroke-width="1.7"/>
<line x1="1627.4" y1="215.2" x2="1627.4" y2="218.6" stroke="#000" stroke-width="1.7"/>
<line x1="1631.6" y1="215.2" x2="1631.6" y2="218.6" stroke="#000" stroke-width="1.7"/>
<line x1="1635.4" y1="215.2" x2="1635.4" y2="218.6" stroke="#000" stroke-width="1.7"/>
<line x1="1638.7" y1="215.2" x2="1638.7" y2="220.7" stroke="#000" stroke-width="2.2"/>
</g>
<g>
<polyline points="117.3,387.6 120.2,389.5 122.3,388.4 124.5,389.7 127.1,388.2 129.9,387.5 132.6,387.5 135.5,390.2 137.9,388 139.9,387.5 142.6,390.1 145.2,388.3 147.7,389.7 150.1,387.6 152.2,389.9 154.9,389 157.8,387.4 160.6,388.2 163.5,388.9 166.3,385.9 169.3,388.1 171.9,384.2 174.6,385.1 177.2,383.1 179.8,386.7 182.2,383.7 185.2,385.7 187.8,383.9 190.6,386 193.6,384.1 195.8,386.3 198.6,383.8 200.8,386.1 203,383.6 205.3,386.7 207.3,383.5 209.8,383.8 211.8,382.5 214,379.6 216.1,382.7 219,380.2 221.8,382.4 223.9,378.2 226,379 227.7,374.7 229.5,377.4 231.1,371.2 232.4,374.2 234,368.3 235.2,370.7 236.5,366.4 238.2,370 239.9,361.9 241.3,363.6 243.1,365.7 244.4,360.6 246.2,361.1 247.9,363.5 249.7,359.9 251.3,364.6 253,357.3 254.4,354.5 256.2,358.1 257.7,354.1 259,354.3 260.5,351.9 262.1,343.3 263.6,348.8 264.9,342.7 266.6,347.8 268.3,342.2 270,327.2 271.6,329.9 273.3,325.1 274.7,327.6 276.2,323.4 277.6,327.6 279.1,314.4 280.8,324.3 282.3,307.7 283.7,314.7 285.5,296.4 286.8,296.9 288.1,303.3 289.4,286.8 290.8,303.5 292.5,285.5 293.8,294.9 295.3,281.6 296.8,283.8 298.4,266.5 300.1,280.4 301.9,282.7 303.2,272.8 304.5,279.3 306.2,268.8 307.4,269 309.1,268.8 310.4,279.5 311.7,274 313.4,266.9 315,285.1 316.6,275 318.3,287.7 320.1,282.9 321.7,303.8 323.2,300 324.9,311.8 326.5,303.9 328,319.1 329.4,305.6 330.8,320.3 332,317.4 333.6,328.8 335.1,328.1 336.9,346.4 338.7,341.7 340.3,351.6 341.9,355.9 343.7,360.9 345.5,373.6 347.3,372.4 348.5,377.8 350.4,378.5 352.6,383.4 354.6,383.1 356.6,386.1 359.4,384.4 362,387.8 364.2,386.2 366.8,389.5 368.9,387.9 371.3,389.3 373.4,387.6 376.1,389.6 378.6,390.2 381.4,388.3 383.8,389.8 386.7,388.8 388.7,390.2 391.6,388.3 394,390.2 397,388.3 399.8,390.2 402.4,390.2 404.4,388.6" fill="none" stroke="#111" stroke-width="1.4" stroke-linejoin="miter" />
<rect x="112.4" y="371" width="2.6" height="20.3" fill="#000"/>
<rect x="112.4" y="382" width="3.7" height="9.3" fill="#000"/>
<line x1="269.2" y1="239.6" x2="269.2" y2="390.8" stroke="#111" stroke-width="2.8" stroke-dasharray="2.9 2.8"/>
<rect x="112.4" y="237.5" width="294" height="153.8" fill="none" stroke="#000" stroke-width="2.8"/>
<line x1="106.9" y1="238.7" x2="112.4" y2="238.7" stroke="#000" stroke-width="2.4"/>
<line x1="109.6" y1="244.8" x2="112.4" y2="244.8" stroke="#000" stroke-width="1.7"/>
<line x1="109.6" y1="250.8" x2="112.4" y2="250.8" stroke="#000" stroke-width="1.7"/>
<line x1="109.6" y1="256.9" x2="112.4" y2="256.9" stroke="#000" stroke-width="1.7"/>
<line x1="109.6" y1="263" x2="112.4" y2="263" stroke="#000" stroke-width="1.7"/>
<line x1="106.9" y1="269" x2="112.4" y2="269" stroke="#000" stroke-width="2.4"/>
<line x1="109.6" y1="275.1" x2="112.4" y2="275.1" stroke="#000" stroke-width="1.7"/>
<line x1="109.6" y1="281.2" x2="112.4" y2="281.2" stroke="#000" stroke-width="1.7"/>
<line x1="109.6" y1="287.2" x2="112.4" y2="287.2" stroke="#000" stroke-width="1.7"/>
<line x1="109.6" y1="293.3" x2="112.4" y2="293.3" stroke="#000" stroke-width="1.7"/>
<line x1="106.9" y1="299.4" x2="112.4" y2="299.4" stroke="#000" stroke-width="2.4"/>
<line x1="109.6" y1="305.4" x2="112.4" y2="305.4" stroke="#000" stroke-width="1.7"/>
<line x1="109.6" y1="311.5" x2="112.4" y2="311.5" stroke="#000" stroke-width="1.7"/>
<line x1="109.6" y1="317.6" x2="112.4" y2="317.6" stroke="#000" stroke-width="1.7"/>
<line x1="109.6" y1="323.7" x2="112.4" y2="323.7" stroke="#000" stroke-width="1.7"/>
<line x1="106.9" y1="329.7" x2="112.4" y2="329.7" stroke="#000" stroke-width="2.4"/>
<line x1="109.6" y1="335.8" x2="112.4" y2="335.8" stroke="#000" stroke-width="1.7"/>
<line x1="109.6" y1="341.9" x2="112.4" y2="341.9" stroke="#000" stroke-width="1.7"/>
<line x1="109.6" y1="347.9" x2="112.4" y2="347.9" stroke="#000" stroke-width="1.7"/>
<line x1="109.6" y1="354" x2="112.4" y2="354" stroke="#000" stroke-width="1.7"/>
<line x1="106.9" y1="360.1" x2="112.4" y2="360.1" stroke="#000" stroke-width="2.4"/>
<line x1="109.6" y1="366.1" x2="112.4" y2="366.1" stroke="#000" stroke-width="1.7"/>
<line x1="109.6" y1="372.2" x2="112.4" y2="372.2" stroke="#000" stroke-width="1.7"/>
<line x1="109.6" y1="378.3" x2="112.4" y2="378.3" stroke="#000" stroke-width="1.7"/>
<line x1="109.6" y1="384.3" x2="112.4" y2="384.3" stroke="#000" stroke-width="1.7"/>
<line x1="106.9" y1="390.4" x2="112.4" y2="390.4" stroke="#000" stroke-width="2.4"/>
<line x1="113.1" y1="391.3" x2="113.1" y2="396.8" stroke="#000" stroke-width="2.2"/>
<line x1="135.1" y1="391.3" x2="135.1" y2="394.7" stroke="#000" stroke-width="1.7"/>
<line x1="147.9" y1="391.3" x2="147.9" y2="394.7" stroke="#000" stroke-width="1.7"/>
<line x1="157" y1="391.3" x2="157" y2="394.7" stroke="#000" stroke-width="1.7"/>
<line x1="164.1" y1="391.3" x2="164.1" y2="394.7" stroke="#000" stroke-width="1.7"/>
<line x1="169.9" y1="391.3" x2="169.9" y2="394.7" stroke="#000" stroke-width="1.7"/>
<line x1="174.8" y1="391.3" x2="174.8" y2="394.7" stroke="#000" stroke-width="1.7"/>
<line x1="179" y1="391.3" x2="179" y2="394.7" stroke="#000" stroke-width="1.7"/>
<line x1="182.7" y1="391.3" x2="182.7" y2="394.7" stroke="#000" stroke-width="1.7"/>
<line x1="186.1" y1="391.3" x2="186.1" y2="396.8" stroke="#000" stroke-width="2.2"/>
<line x1="208.1" y1="391.3" x2="208.1" y2="394.7" stroke="#000" stroke-width="1.7"/>
<line x1="220.9" y1="391.3" x2="220.9" y2="394.7" stroke="#000" stroke-width="1.7"/>
<line x1="230" y1="391.3" x2="230" y2="394.7" stroke="#000" stroke-width="1.7"/>
<line x1="237.1" y1="391.3" x2="237.1" y2="394.7" stroke="#000" stroke-width="1.7"/>
<line x1="242.9" y1="391.3" x2="242.9" y2="394.7" stroke="#000" stroke-width="1.7"/>
<line x1="247.8" y1="391.3" x2="247.8" y2="394.7" stroke="#000" stroke-width="1.7"/>
<line x1="252" y1="391.3" x2="252" y2="394.7" stroke="#000" stroke-width="1.7"/>
<line x1="255.7" y1="391.3" x2="255.7" y2="394.7" stroke="#000" stroke-width="1.7"/>
<line x1="259.1" y1="391.3" x2="259.1" y2="396.8" stroke="#000" stroke-width="2.2"/>
<line x1="281" y1="391.3" x2="281" y2="394.7" stroke="#000" stroke-width="1.7"/>
<line x1="293.9" y1="391.3" x2="293.9" y2="394.7" stroke="#000" stroke-width="1.7"/>
<line x1="303" y1="391.3" x2="303" y2="394.7" stroke="#000" stroke-width="1.7"/>
<line x1="310.1" y1="391.3" x2="310.1" y2="394.7" stroke="#000" stroke-width="1.7"/>
<line x1="315.9" y1="391.3" x2="315.9" y2="394.7" stroke="#000" stroke-width="1.7"/>
<line x1="320.8" y1="391.3" x2="320.8" y2="394.7" stroke="#000" stroke-width="1.7"/>
<line x1="325" y1="391.3" x2="325" y2="394.7" stroke="#000" stroke-width="1.7"/>
<line x1="328.7" y1="391.3" x2="328.7" y2="394.7" stroke="#000" stroke-width="1.7"/>
<line x1="332.1" y1="391.3" x2="332.1" y2="396.8" stroke="#000" stroke-width="2.2"/>
<line x1="354" y1="391.3" x2="354" y2="394.7" stroke="#000" stroke-width="1.7"/>
<line x1="366.9" y1="391.3" x2="366.9" y2="394.7" stroke="#000" stroke-width="1.7"/>
<line x1="376" y1="391.3" x2="376" y2="394.7" stroke="#000" stroke-width="1.7"/>
<line x1="383.1" y1="391.3" x2="383.1" y2="394.7" stroke="#000" stroke-width="1.7"/>
<line x1="388.9" y1="391.3" x2="388.9" y2="394.7" stroke="#000" stroke-width="1.7"/>
<line x1="393.7" y1="391.3" x2="393.7" y2="394.7" stroke="#000" stroke-width="1.7"/>
<line x1="398" y1="391.3" x2="398" y2="394.7" stroke="#000" stroke-width="1.7"/>
<line x1="401.7" y1="391.3" x2="401.7" y2="394.7" stroke="#000" stroke-width="1.7"/>
<line x1="405.1" y1="391.3" x2="405.1" y2="396.8" stroke="#000" stroke-width="2.2"/>
</g>
<g>
<polyline points="426.3,388.2 429.3,390 431.9,388.2 434.7,389.9 437,387.9 439,390.2 441.7,387.9 443.8,388.4 446.2,390.2 448.2,388 450.3,388.2 452.7,390.2 454.7,389.5 456.7,388.6 458.7,390.2 461.1,388.1 463.1,389.6 466,388.4 468.6,390.1 471,387.8 473.2,389.4 475.6,387.1 477.8,387.2 480.8,389.2 482.9,387.1 485.1,388.6 487.3,386.3 489.9,385.4 492.7,387.3 495.2,385.3 497.8,387.5 500.1,385 502.7,386 505.2,383.4 507.6,385.2 509.6,383.8 511.8,385.6 514.7,381.7 517.1,385 519.9,382.2 522.4,385.3 525.4,385 527.4,381.4 529.7,381.6 532.5,378.3 535.5,380.4 537.4,378.8 539.2,379.4 540.7,372.1 542,373.2 543.9,376.3 545.7,371.1 547.4,373.5 548.9,369.8 550.4,371.4 551.8,367.5 553.1,370.7 554.4,364.9 556.1,367.4 557.7,363.5 559.4,365.4 561.1,359.2 562.5,363.4 564.3,358.8 565.6,365.4 567.2,360.7 568.9,364.5 570.2,354.1 571.7,356.9 573.1,353.9 574.9,354.1 576.3,350.3 578,343.5 579.5,347.7 581,338.4 582.7,341.9 584.1,346.6 585.6,333.9 587.4,338.4 589,318.2 590.5,331.9 592.1,327.7 593.6,319.2 595.3,320.2 596.5,312.5 597.8,318.6 599.6,306.1 601.1,311.4 602.9,293.1 604.8,308.2 606.1,301.9 607.4,307.7 608.8,288.9 610.5,293.3 612,280.3 613.8,286 615.3,295.3 616.6,277.6 618.3,292.7 620.1,283 621.4,299.5 622.8,291.5 624.4,289.7 625.8,283.6 627.6,288.7 629,282.8 630.5,298.1 632.4,297.8 633.9,272.4 635.6,298.8 637.3,294.6 639.1,296.8 640.9,309.7 642.7,303.5 643.9,324.6 645.3,313.6 646.6,331.2 647.9,319.5 649.5,327.4 650.7,336.3 651.9,335.6 653.1,343 654.4,340.8 655.8,353.1 657.6,350.7 659.4,362.6 660.8,362.9 662.2,369.8 663.6,373.3 665.2,373.1 666.7,376.2 668,381.2 670.7,383.1 672.8,386.8 675.3,385.2 678.1,388.6 680.7,389.5 683.7,386.6 686.3,389.8 688.6,388.9 690.7,389.7 693.2,387.5 695.4,390 697.9,390.2 700.4,388.2 702.3,390.2 704.6,388.8 707.2,390 709.6,390.1 712.1,388.9" fill="none" stroke="#111" stroke-width="1.4" stroke-linejoin="miter" />
<rect x="422.2" y="371" width="2.4" height="20.3" fill="#000"/>
<rect x="422.2" y="383" width="3.4" height="8.3" fill="#000"/>
<line x1="579" y1="239.6" x2="579" y2="390.8" stroke="#111" stroke-width="2.8" stroke-dasharray="2.9 2.8"/>
<rect x="422.2" y="237.5" width="294.1" height="153.8" fill="none" stroke="#000" stroke-width="2.8"/>
<line x1="416.7" y1="238.7" x2="422.2" y2="238.7" stroke="#000" stroke-width="2.4"/>
<line x1="419.4" y1="244.8" x2="422.2" y2="244.8" stroke="#000" stroke-width="1.7"/>
<line x1="419.4" y1="250.8" x2="422.2" y2="250.8" stroke="#000" stroke-width="1.7"/>
<line x1="419.4" y1="256.9" x2="422.2" y2="256.9" stroke="#000" stroke-width="1.7"/>
<line x1="419.4" y1="263" x2="422.2" y2="263" stroke="#000" stroke-width="1.7"/>
<line x1="416.7" y1="269" x2="422.2" y2="269" stroke="#000" stroke-width="2.4"/>
<line x1="419.4" y1="275.1" x2="422.2" y2="275.1" stroke="#000" stroke-width="1.7"/>
<line x1="419.4" y1="281.2" x2="422.2" y2="281.2" stroke="#000" stroke-width="1.7"/>
<line x1="419.4" y1="287.2" x2="422.2" y2="287.2" stroke="#000" stroke-width="1.7"/>
<line x1="419.4" y1="293.3" x2="422.2" y2="293.3" stroke="#000" stroke-width="1.7"/>
<line x1="416.7" y1="299.4" x2="422.2" y2="299.4" stroke="#000" stroke-width="2.4"/>
<line x1="419.4" y1="305.4" x2="422.2" y2="305.4" stroke="#000" stroke-width="1.7"/>
<line x1="419.4" y1="311.5" x2="422.2" y2="311.5" stroke="#000" stroke-width="1.7"/>
<line x1="419.4" y1="317.6" x2="422.2" y2="317.6" stroke="#000" stroke-width="1.7"/>
<line x1="419.4" y1="323.7" x2="422.2" y2="323.7" stroke="#000" stroke-width="1.7"/>
<line x1="416.7" y1="329.7" x2="422.2" y2="329.7" stroke="#000" stroke-width="2.4"/>
<line x1="419.4" y1="335.8" x2="422.2" y2="335.8" stroke="#000" stroke-width="1.7"/>
<line x1="419.4" y1="341.9" x2="422.2" y2="341.9" stroke="#000" stroke-width="1.7"/>
<line x1="419.4" y1="347.9" x2="422.2" y2="347.9" stroke="#000" stroke-width="1.7"/>
<line x1="419.4" y1="354" x2="422.2" y2="354" stroke="#000" stroke-width="1.7"/>
<line x1="416.7" y1="360.1" x2="422.2" y2="360.1" stroke="#000" stroke-width="2.4"/>
<line x1="419.4" y1="366.1" x2="422.2" y2="366.1" stroke="#000" stroke-width="1.7"/>
<line x1="419.4" y1="372.2" x2="422.2" y2="372.2" stroke="#000" stroke-width="1.7"/>
<line x1="419.4" y1="378.3" x2="422.2" y2="378.3" stroke="#000" stroke-width="1.7"/>
<line x1="419.4" y1="384.3" x2="422.2" y2="384.3" stroke="#000" stroke-width="1.7"/>
<line x1="416.7" y1="390.4" x2="422.2" y2="390.4" stroke="#000" stroke-width="2.4"/>
<line x1="422.9" y1="391.3" x2="422.9" y2="396.8" stroke="#000" stroke-width="2.2"/>
<line x1="444.9" y1="391.3" x2="444.9" y2="394.7" stroke="#000" stroke-width="1.7"/>
<line x1="457.7" y1="391.3" x2="457.7" y2="394.7" stroke="#000" stroke-width="1.7"/>
<line x1="466.9" y1="391.3" x2="466.9" y2="394.7" stroke="#000" stroke-width="1.7"/>
<line x1="473.9" y1="391.3" x2="473.9" y2="394.7" stroke="#000" stroke-width="1.7"/>
<line x1="479.7" y1="391.3" x2="479.7" y2="394.7" stroke="#000" stroke-width="1.7"/>
<line x1="484.6" y1="391.3" x2="484.6" y2="394.7" stroke="#000" stroke-width="1.7"/>
<line x1="488.8" y1="391.3" x2="488.8" y2="394.7" stroke="#000" stroke-width="1.7"/>
<line x1="492.6" y1="391.3" x2="492.6" y2="394.7" stroke="#000" stroke-width="1.7"/>
<line x1="495.9" y1="391.3" x2="495.9" y2="396.8" stroke="#000" stroke-width="2.2"/>
<line x1="517.9" y1="391.3" x2="517.9" y2="394.7" stroke="#000" stroke-width="1.7"/>
<line x1="530.7" y1="391.3" x2="530.7" y2="394.7" stroke="#000" stroke-width="1.7"/>
<line x1="539.9" y1="391.3" x2="539.9" y2="394.7" stroke="#000" stroke-width="1.7"/>
<line x1="546.9" y1="391.3" x2="546.9" y2="394.7" stroke="#000" stroke-width="1.7"/>
<line x1="552.7" y1="391.3" x2="552.7" y2="394.7" stroke="#000" stroke-width="1.7"/>
<line x1="557.6" y1="391.3" x2="557.6" y2="394.7" stroke="#000" stroke-width="1.7"/>
<line x1="561.8" y1="391.3" x2="561.8" y2="394.7" stroke="#000" stroke-width="1.7"/>
<line x1="565.6" y1="391.3" x2="565.6" y2="394.7" stroke="#000" stroke-width="1.7"/>
<line x1="568.9" y1="391.3" x2="568.9" y2="396.8" stroke="#000" stroke-width="2.2"/>
<line x1="590.9" y1="391.3" x2="590.9" y2="394.7" stroke="#000" stroke-width="1.7"/>
<line x1="603.7" y1="391.3" x2="603.7" y2="394.7" stroke="#000" stroke-width="1.7"/>
<line x1="612.9" y1="391.3" x2="612.9" y2="394.7" stroke="#000" stroke-width="1.7"/>
<line x1="619.9" y1="391.3" x2="619.9" y2="394.7" stroke="#000" stroke-width="1.7"/>
<line x1="625.7" y1="391.3" x2="625.7" y2="394.7" stroke="#000" stroke-width="1.7"/>
<line x1="630.6" y1="391.3" x2="630.6" y2="394.7" stroke="#000" stroke-width="1.7"/>
<line x1="634.8" y1="391.3" x2="634.8" y2="394.7" stroke="#000" stroke-width="1.7"/>
<line x1="638.6" y1="391.3" x2="638.6" y2="394.7" stroke="#000" stroke-width="1.7"/>
<line x1="641.9" y1="391.3" x2="641.9" y2="396.8" stroke="#000" stroke-width="2.2"/>
<line x1="663.9" y1="391.3" x2="663.9" y2="394.7" stroke="#000" stroke-width="1.7"/>
<line x1="676.7" y1="391.3" x2="676.7" y2="394.7" stroke="#000" stroke-width="1.7"/>
<line x1="685.9" y1="391.3" x2="685.9" y2="394.7" stroke="#000" stroke-width="1.7"/>
<line x1="692.9" y1="391.3" x2="692.9" y2="394.7" stroke="#000" stroke-width="1.7"/>
<line x1="698.7" y1="391.3" x2="698.7" y2="394.7" stroke="#000" stroke-width="1.7"/>
<line x1="703.6" y1="391.3" x2="703.6" y2="394.7" stroke="#000" stroke-width="1.7"/>
<line x1="707.8" y1="391.3" x2="707.8" y2="394.7" stroke="#000" stroke-width="1.7"/>
<line x1="711.6" y1="391.3" x2="711.6" y2="394.7" stroke="#000" stroke-width="1.7"/>
<line x1="714.9" y1="391.3" x2="714.9" y2="396.8" stroke="#000" stroke-width="2.2"/>
</g>
<g>
<polyline points="735.3,380.6 736.7,384.3 738.1,387.9 739.9,377.9 741.7,380.6 743.1,381 744.5,381 745.9,379.2 747.2,380 748.6,379.6 750,378.8 751.8,380.6 753.7,379.6 755.5,377.9 757.3,373.6 759.2,371.4 761,369.5 762.8,370.5 764.7,365 766.1,363.9 767.6,364.5 769.1,361.9 770.5,362.1 772,361.4 773.8,351.3 775.2,354.2 776.6,358.6 778.2,356.8 779.8,354.1 781.4,348.6 783,345.8 784.4,350.8 785.7,351.3 787.1,335.3 788.5,323.8 790.3,336.6 792.1,310.1 794,323.8 795.5,320.5 797,315.7 798.6,308.2 799.5,317.4 801.3,297.2 802.7,295.8 804.1,299.1 805.9,297.3 807.7,292.6 809.6,282.6 810.8,270.7 812.3,295.4 814.1,290.8 816,287.6 817.8,283.5 819.2,288.1 820.5,284.2 821.9,287.9 823.3,289 825.1,289 826.5,292.6 827.9,290.8 829.7,308.2 831.5,281.6 833.4,299.1 835.2,275.2 837,301.8 838.9,286.2 840.2,287.7 841.6,287.1 843.5,290.4 845.3,296.3 846.2,303.6 848,296.3 849.9,294.5 851.7,300.2 853.5,300 854.9,307.1 856.3,314.6 857.7,315.4 859,310.1 860.9,319.2 862.2,325.9 863.6,336.6 865.4,330.2 867.3,342.3 869.1,351.3 870.5,357.2 871.9,360.5 873.2,358.9 874.6,354 876.4,362.3 877.8,363.8 879.2,368.3 880.6,370.6 881.9,375.1 883.8,370.5 885.6,377.9 887.4,379.8 889.3,380.6 890.6,381.7 892,384.2 893.4,384.5 894.8,386.1 896.6,383.4 898,385.6 899.4,387 900.7,385.4 902.1,382.4 903.5,383.8 904.8,386.1 906.2,385.7 907.6,385.2 909.1,386.6 910.5,386.7 912,387.2 913.5,387.9 914.9,388.9 916.3,387.8 917.7,386.1 919.1,387.1 920.4,388.9 921.8,387.6 923.2,386.1 925,388 926.8,389.8 928.7,388 930.5,386.1 932.3,387.5 934.2,389.8 935.5,389.8 936.9,390 938.3,389.5 939.7,389.5 941,389.9 942.4,389.6 943.8,389.4 945.2,389.1 946.5,389.6 947.9,389.4 949.3,389.3 950.6,389.4 952,389.3 953.3,389.6 954.7,389.7 956,389.4 957.4,389.2 958.7,389.9 960.1,389.9 961.4,389.3 962.8,389.7 964.1,389.8 965.5,389.6 966.8,389.8 968.2,390 969.5,389.8 970.9,389.7 972.2,389.6 973.6,389.8 975.4,387 976.8,387.2 978.2,387.5 979.5,388 980.9,388.9 982.3,388.6 983.8,389.2 985.2,388.9 986.6,389.1 988,389.2 989.5,389.1 990.9,388.5 992.3,389.2 993.7,388.9 995.6,387.2 997.4,386.5 999.2,388.4 1001.1,389.8 1002.4,390 1003.8,389.9 1005.2,389.8 1006.6,389.6 1007.9,389.6 1009.3,389.9 1010.7,389.7 1012.1,389.9 1013.4,389.7 1014.8,389.7 1016.2,389.8 1017.6,390 1018.9,389.9 1020.3,389.9 1021.7,389.9 1023.1,390" fill="none" stroke="#111" stroke-width="1.5" stroke-linejoin="miter" />
<rect x="730.8" y="321" width="3" height="70.3" fill="#000"/>
<rect x="730.8" y="351" width="4.7" height="40.3" fill="#000"/>
<line x1="887.4" y1="239.6" x2="887.4" y2="390.8" stroke="#111" stroke-width="2.8" stroke-dasharray="2.9 2.8"/>
<rect x="730.8" y="237.5" width="293.8" height="153.8" fill="none" stroke="#000" stroke-width="2.8"/>
<line x1="725.2" y1="238.7" x2="730.8" y2="238.7" stroke="#000" stroke-width="2.4"/>
<line x1="728" y1="244.8" x2="730.8" y2="244.8" stroke="#000" stroke-width="1.7"/>
<line x1="728" y1="250.8" x2="730.8" y2="250.8" stroke="#000" stroke-width="1.7"/>
<line x1="728" y1="256.9" x2="730.8" y2="256.9" stroke="#000" stroke-width="1.7"/>
<line x1="728" y1="263" x2="730.8" y2="263" stroke="#000" stroke-width="1.7"/>
<line x1="725.2" y1="269" x2="730.8" y2="269" stroke="#000" stroke-width="2.4"/>
<line x1="728" y1="275.1" x2="730.8" y2="275.1" stroke="#000" stroke-width="1.7"/>
<line x1="728" y1="281.2" x2="730.8" y2="281.2" stroke="#000" stroke-width="1.7"/>
<line x1="728" y1="287.2" x2="730.8" y2="287.2" stroke="#000" stroke-width="1.7"/>
<line x1="728" y1="293.3" x2="730.8" y2="293.3" stroke="#000" stroke-width="1.7"/>
<line x1="725.2" y1="299.4" x2="730.8" y2="299.4" stroke="#000" stroke-width="2.4"/>
<line x1="728" y1="305.4" x2="730.8" y2="305.4" stroke="#000" stroke-width="1.7"/>
<line x1="728" y1="311.5" x2="730.8" y2="311.5" stroke="#000" stroke-width="1.7"/>
<line x1="728" y1="317.6" x2="730.8" y2="317.6" stroke="#000" stroke-width="1.7"/>
<line x1="728" y1="323.7" x2="730.8" y2="323.7" stroke="#000" stroke-width="1.7"/>
<line x1="725.2" y1="329.7" x2="730.8" y2="329.7" stroke="#000" stroke-width="2.4"/>
<line x1="728" y1="335.8" x2="730.8" y2="335.8" stroke="#000" stroke-width="1.7"/>
<line x1="728" y1="341.9" x2="730.8" y2="341.9" stroke="#000" stroke-width="1.7"/>
<line x1="728" y1="347.9" x2="730.8" y2="347.9" stroke="#000" stroke-width="1.7"/>
<line x1="728" y1="354" x2="730.8" y2="354" stroke="#000" stroke-width="1.7"/>
<line x1="725.2" y1="360.1" x2="730.8" y2="360.1" stroke="#000" stroke-width="2.4"/>
<line x1="728" y1="366.1" x2="730.8" y2="366.1" stroke="#000" stroke-width="1.7"/>
<line x1="728" y1="372.2" x2="730.8" y2="372.2" stroke="#000" stroke-width="1.7"/>
<line x1="728" y1="378.3" x2="730.8" y2="378.3" stroke="#000" stroke-width="1.7"/>
<line x1="728" y1="384.3" x2="730.8" y2="384.3" stroke="#000" stroke-width="1.7"/>
<line x1="725.2" y1="390.4" x2="730.8" y2="390.4" stroke="#000" stroke-width="2.4"/>
<line x1="731.5" y1="391.3" x2="731.5" y2="396.8" stroke="#000" stroke-width="2.2"/>
<line x1="753.4" y1="391.3" x2="753.4" y2="394.7" stroke="#000" stroke-width="1.7"/>
<line x1="766.2" y1="391.3" x2="766.2" y2="394.7" stroke="#000" stroke-width="1.7"/>
<line x1="775.4" y1="391.3" x2="775.4" y2="394.7" stroke="#000" stroke-width="1.7"/>
<line x1="782.4" y1="391.3" x2="782.4" y2="394.7" stroke="#000" stroke-width="1.7"/>
<line x1="788.2" y1="391.3" x2="788.2" y2="394.7" stroke="#000" stroke-width="1.7"/>
<line x1="793.1" y1="391.3" x2="793.1" y2="394.7" stroke="#000" stroke-width="1.7"/>
<line x1="797.3" y1="391.3" x2="797.3" y2="394.7" stroke="#000" stroke-width="1.7"/>
<line x1="801" y1="391.3" x2="801" y2="394.7" stroke="#000" stroke-width="1.7"/>
<line x1="804.4" y1="391.3" x2="804.4" y2="396.8" stroke="#000" stroke-width="2.2"/>
<line x1="826.3" y1="391.3" x2="826.3" y2="394.7" stroke="#000" stroke-width="1.7"/>
<line x1="839.2" y1="391.3" x2="839.2" y2="394.7" stroke="#000" stroke-width="1.7"/>
<line x1="848.3" y1="391.3" x2="848.3" y2="394.7" stroke="#000" stroke-width="1.7"/>
<line x1="855.3" y1="391.3" x2="855.3" y2="394.7" stroke="#000" stroke-width="1.7"/>
<line x1="861.1" y1="391.3" x2="861.1" y2="394.7" stroke="#000" stroke-width="1.7"/>
<line x1="866" y1="391.3" x2="866" y2="394.7" stroke="#000" stroke-width="1.7"/>
<line x1="870.2" y1="391.3" x2="870.2" y2="394.7" stroke="#000" stroke-width="1.7"/>
<line x1="874" y1="391.3" x2="874" y2="394.7" stroke="#000" stroke-width="1.7"/>
<line x1="877.3" y1="391.3" x2="877.3" y2="396.8" stroke="#000" stroke-width="2.2"/>
<line x1="899.3" y1="391.3" x2="899.3" y2="394.7" stroke="#000" stroke-width="1.7"/>
<line x1="912.1" y1="391.3" x2="912.1" y2="394.7" stroke="#000" stroke-width="1.7"/>
<line x1="921.2" y1="391.3" x2="921.2" y2="394.7" stroke="#000" stroke-width="1.7"/>
<line x1="928.3" y1="391.3" x2="928.3" y2="394.7" stroke="#000" stroke-width="1.7"/>
<line x1="934" y1="391.3" x2="934" y2="394.7" stroke="#000" stroke-width="1.7"/>
<line x1="938.9" y1="391.3" x2="938.9" y2="394.7" stroke="#000" stroke-width="1.7"/>
<line x1="943.2" y1="391.3" x2="943.2" y2="394.7" stroke="#000" stroke-width="1.7"/>
<line x1="946.9" y1="391.3" x2="946.9" y2="394.7" stroke="#000" stroke-width="1.7"/>
<line x1="950.2" y1="391.3" x2="950.2" y2="396.8" stroke="#000" stroke-width="2.2"/>
<line x1="972.2" y1="391.3" x2="972.2" y2="394.7" stroke="#000" stroke-width="1.7"/>
<line x1="985" y1="391.3" x2="985" y2="394.7" stroke="#000" stroke-width="1.7"/>
<line x1="994.1" y1="391.3" x2="994.1" y2="394.7" stroke="#000" stroke-width="1.7"/>
<line x1="1001.2" y1="391.3" x2="1001.2" y2="394.7" stroke="#000" stroke-width="1.7"/>
<line x1="1007" y1="391.3" x2="1007" y2="394.7" stroke="#000" stroke-width="1.7"/>
<line x1="1011.9" y1="391.3" x2="1011.9" y2="394.7" stroke="#000" stroke-width="1.7"/>
<line x1="1016.1" y1="391.3" x2="1016.1" y2="394.7" stroke="#000" stroke-width="1.7"/>
<line x1="1019.8" y1="391.3" x2="1019.8" y2="394.7" stroke="#000" stroke-width="1.7"/>
<line x1="1023.1" y1="391.3" x2="1023.1" y2="396.8" stroke="#000" stroke-width="2.2"/>
</g>
<g>
<polyline points="1040.7,389.8 1106.6,389.8 1108.5,387 1110.3,389.8 1136,389.8 1137.8,387.6 1143.3,387.6 1145.1,389.8 1147,387.6 1148.8,389.8 1152.5,387.6 1156.1,387.6 1158.9,384.6 1165.3,384.6 1167.1,381.5 1169.9,385.2 1173.5,385.2 1179,378.8 1182.7,376 1185.4,380.6 1191.9,373.3 1194.6,371.4 1197.4,373.3 1201.9,365 1204.7,360.5 1206.5,364.1 1209.3,355.9 1211.1,358.6 1213.8,345.8 1216.6,339.4 1218.4,342.1 1220.3,329.3 1223,322 1226.7,307.3 1229.4,301.8 1232.2,289 1234,300.9 1236.8,294.5 1239.5,292.6 1243.2,280.7 1245,298.1 1246.8,291.7 1250.5,296.3 1255.1,301.8 1258.7,300.9 1261.5,320.1 1265.2,325.6 1267.9,330.2 1269.7,321 1271.6,333 1273.4,327.5 1277.1,342.1 1282.6,353.1 1286.2,364.1 1289.9,376.9 1293.6,380.6 1297.2,381.5 1302.7,387.9 1305.5,384.6 1309.1,387.6 1317.4,387.6 1320.1,389.8 1324.7,389.8 1326.6,387 1328.4,389.8 1332.1,389.8" fill="none" stroke="#222" stroke-width="2.3" stroke-linejoin="miter" stroke-linecap="round" stroke-linejoin="round"/>
<line x1="1039.7" y1="389.5" x2="1333.2" y2="389.5" stroke="#555" stroke-width="2"/>
<line x1="1196" y1="239.6" x2="1196" y2="390.8" stroke="#111" stroke-width="2.8" stroke-dasharray="2.9 2.8"/>
<rect x="1039.7" y="237.5" width="293.5" height="153.8" fill="none" stroke="#000" stroke-width="2.8"/>
<line x1="1034.2" y1="238.7" x2="1039.7" y2="238.7" stroke="#000" stroke-width="2.4"/>
<line x1="1036.9" y1="244.8" x2="1039.7" y2="244.8" stroke="#000" stroke-width="1.7"/>
<line x1="1036.9" y1="250.8" x2="1039.7" y2="250.8" stroke="#000" stroke-width="1.7"/>
<line x1="1036.9" y1="256.9" x2="1039.7" y2="256.9" stroke="#000" stroke-width="1.7"/>
<line x1="1036.9" y1="263" x2="1039.7" y2="263" stroke="#000" stroke-width="1.7"/>
<line x1="1034.2" y1="269" x2="1039.7" y2="269" stroke="#000" stroke-width="2.4"/>
<line x1="1036.9" y1="275.1" x2="1039.7" y2="275.1" stroke="#000" stroke-width="1.7"/>
<line x1="1036.9" y1="281.2" x2="1039.7" y2="281.2" stroke="#000" stroke-width="1.7"/>
<line x1="1036.9" y1="287.2" x2="1039.7" y2="287.2" stroke="#000" stroke-width="1.7"/>
<line x1="1036.9" y1="293.3" x2="1039.7" y2="293.3" stroke="#000" stroke-width="1.7"/>
<line x1="1034.2" y1="299.4" x2="1039.7" y2="299.4" stroke="#000" stroke-width="2.4"/>
<line x1="1036.9" y1="305.4" x2="1039.7" y2="305.4" stroke="#000" stroke-width="1.7"/>
<line x1="1036.9" y1="311.5" x2="1039.7" y2="311.5" stroke="#000" stroke-width="1.7"/>
<line x1="1036.9" y1="317.6" x2="1039.7" y2="317.6" stroke="#000" stroke-width="1.7"/>
<line x1="1036.9" y1="323.7" x2="1039.7" y2="323.7" stroke="#000" stroke-width="1.7"/>
<line x1="1034.2" y1="329.7" x2="1039.7" y2="329.7" stroke="#000" stroke-width="2.4"/>
<line x1="1036.9" y1="335.8" x2="1039.7" y2="335.8" stroke="#000" stroke-width="1.7"/>
<line x1="1036.9" y1="341.9" x2="1039.7" y2="341.9" stroke="#000" stroke-width="1.7"/>
<line x1="1036.9" y1="347.9" x2="1039.7" y2="347.9" stroke="#000" stroke-width="1.7"/>
<line x1="1036.9" y1="354" x2="1039.7" y2="354" stroke="#000" stroke-width="1.7"/>
<line x1="1034.2" y1="360.1" x2="1039.7" y2="360.1" stroke="#000" stroke-width="2.4"/>
<line x1="1036.9" y1="366.1" x2="1039.7" y2="366.1" stroke="#000" stroke-width="1.7"/>
<line x1="1036.9" y1="372.2" x2="1039.7" y2="372.2" stroke="#000" stroke-width="1.7"/>
<line x1="1036.9" y1="378.3" x2="1039.7" y2="378.3" stroke="#000" stroke-width="1.7"/>
<line x1="1036.9" y1="384.3" x2="1039.7" y2="384.3" stroke="#000" stroke-width="1.7"/>
<line x1="1034.2" y1="390.4" x2="1039.7" y2="390.4" stroke="#000" stroke-width="2.4"/>
<line x1="1040.4" y1="391.3" x2="1040.4" y2="396.8" stroke="#000" stroke-width="2.2"/>
<line x1="1062.3" y1="391.3" x2="1062.3" y2="394.7" stroke="#000" stroke-width="1.7"/>
<line x1="1075.2" y1="391.3" x2="1075.2" y2="394.7" stroke="#000" stroke-width="1.7"/>
<line x1="1084.3" y1="391.3" x2="1084.3" y2="394.7" stroke="#000" stroke-width="1.7"/>
<line x1="1091.3" y1="391.3" x2="1091.3" y2="394.7" stroke="#000" stroke-width="1.7"/>
<line x1="1097.1" y1="391.3" x2="1097.1" y2="394.7" stroke="#000" stroke-width="1.7"/>
<line x1="1102" y1="391.3" x2="1102" y2="394.7" stroke="#000" stroke-width="1.7"/>
<line x1="1106.2" y1="391.3" x2="1106.2" y2="394.7" stroke="#000" stroke-width="1.7"/>
<line x1="1109.9" y1="391.3" x2="1109.9" y2="394.7" stroke="#000" stroke-width="1.7"/>
<line x1="1113.2" y1="391.3" x2="1113.2" y2="396.8" stroke="#000" stroke-width="2.2"/>
<line x1="1135.2" y1="391.3" x2="1135.2" y2="394.7" stroke="#000" stroke-width="1.7"/>
<line x1="1148" y1="391.3" x2="1148" y2="394.7" stroke="#000" stroke-width="1.7"/>
<line x1="1157.1" y1="391.3" x2="1157.1" y2="394.7" stroke="#000" stroke-width="1.7"/>
<line x1="1164.2" y1="391.3" x2="1164.2" y2="394.7" stroke="#000" stroke-width="1.7"/>
<line x1="1169.9" y1="391.3" x2="1169.9" y2="394.7" stroke="#000" stroke-width="1.7"/>
<line x1="1174.8" y1="391.3" x2="1174.8" y2="394.7" stroke="#000" stroke-width="1.7"/>
<line x1="1179" y1="391.3" x2="1179" y2="394.7" stroke="#000" stroke-width="1.7"/>
<line x1="1182.8" y1="391.3" x2="1182.8" y2="394.7" stroke="#000" stroke-width="1.7"/>
<line x1="1186.1" y1="391.3" x2="1186.1" y2="396.8" stroke="#000" stroke-width="2.2"/>
<line x1="1208" y1="391.3" x2="1208" y2="394.7" stroke="#000" stroke-width="1.7"/>
<line x1="1220.9" y1="391.3" x2="1220.9" y2="394.7" stroke="#000" stroke-width="1.7"/>
<line x1="1230" y1="391.3" x2="1230" y2="394.7" stroke="#000" stroke-width="1.7"/>
<line x1="1237" y1="391.3" x2="1237" y2="394.7" stroke="#000" stroke-width="1.7"/>
<line x1="1242.8" y1="391.3" x2="1242.8" y2="394.7" stroke="#000" stroke-width="1.7"/>
<line x1="1247.7" y1="391.3" x2="1247.7" y2="394.7" stroke="#000" stroke-width="1.7"/>
<line x1="1251.9" y1="391.3" x2="1251.9" y2="394.7" stroke="#000" stroke-width="1.7"/>
<line x1="1255.6" y1="391.3" x2="1255.6" y2="394.7" stroke="#000" stroke-width="1.7"/>
<line x1="1259" y1="391.3" x2="1259" y2="396.8" stroke="#000" stroke-width="2.2"/>
<line x1="1280.9" y1="391.3" x2="1280.9" y2="394.7" stroke="#000" stroke-width="1.7"/>
<line x1="1293.7" y1="391.3" x2="1293.7" y2="394.7" stroke="#000" stroke-width="1.7"/>
<line x1="1302.8" y1="391.3" x2="1302.8" y2="394.7" stroke="#000" stroke-width="1.7"/>
<line x1="1309.9" y1="391.3" x2="1309.9" y2="394.7" stroke="#000" stroke-width="1.7"/>
<line x1="1315.6" y1="391.3" x2="1315.6" y2="394.7" stroke="#000" stroke-width="1.7"/>
<line x1="1320.5" y1="391.3" x2="1320.5" y2="394.7" stroke="#000" stroke-width="1.7"/>
<line x1="1324.7" y1="391.3" x2="1324.7" y2="394.7" stroke="#000" stroke-width="1.7"/>
<line x1="1328.5" y1="391.3" x2="1328.5" y2="394.7" stroke="#000" stroke-width="1.7"/>
<line x1="1331.8" y1="391.3" x2="1331.8" y2="396.8" stroke="#000" stroke-width="2.2"/>
</g>
<g>
<polyline points="1347.7,389.8 1405.4,389.8 1407.2,387 1409.1,389.8 1413.6,387.6 1415.5,389.8 1420.1,387.6 1421.9,389.8 1426.5,387.6 1430.1,387.6 1432,389.8 1434.7,387.6 1436.5,389.8 1441.1,387.6 1449.4,387.6 1452.1,384.6 1460.4,384.6 1463.1,376 1465.9,379.7 1467.7,379.7 1470.5,372.4 1473.2,369.6 1476.9,365.9 1480.5,360.5 1482.4,350.4 1486,355.9 1488.8,354 1490.6,356.8 1493.4,346.7 1496.1,341.2 1497.9,344 1500.7,329.3 1502.5,322 1504.4,333 1506.2,313.7 1509.9,307.3 1512.6,301.8 1515.4,283.5 1517.2,292.6 1519.9,278 1521.8,271.6 1523.6,289.9 1526.3,278 1528.2,274.3 1530.9,295.4 1533.7,292.6 1536.4,301.8 1539.2,314.6 1541,316.5 1543.4,312.8 1545.6,322 1549.3,334.8 1552.9,345.8 1555.7,353.1 1559.3,358.6 1563.9,365 1568.5,371.4 1572.2,379.7 1577.7,379.7 1580.4,385.2 1582.2,381.5 1585.9,385.2 1589.6,385.2 1592.3,387.6 1606.1,387.6 1608.8,389.8 1612.5,389.8 1613.4,387 1615.2,389.8 1618,389.8 1618.9,387 1620.7,389.8 1639.1,389.8" fill="none" stroke="#222" stroke-width="2.3" stroke-linejoin="miter" stroke-linecap="round" stroke-linejoin="round"/>
<line x1="1346" y1="389.5" x2="1640.1" y2="389.5" stroke="#555" stroke-width="2"/>
<line x1="1503" y1="239.6" x2="1503" y2="390.8" stroke="#111" stroke-width="2.8" stroke-dasharray="2.9 2.8"/>
<rect x="1346" y="237.5" width="294.1" height="153.8" fill="none" stroke="#000" stroke-width="2.8"/>
<line x1="1340.5" y1="238.7" x2="1346" y2="238.7" stroke="#000" stroke-width="2.4"/>
<line x1="1343.2" y1="244.8" x2="1346" y2="244.8" stroke="#000" stroke-width="1.7"/>
<line x1="1343.2" y1="250.8" x2="1346" y2="250.8" stroke="#000" stroke-width="1.7"/>
<line x1="1343.2" y1="256.9" x2="1346" y2="256.9" stroke="#000" stroke-width="1.7"/>
<line x1="1343.2" y1="263" x2="1346" y2="263" stroke="#000" stroke-width="1.7"/>
<line x1="1340.5" y1="269" x2="1346" y2="269" stroke="#000" stroke-width="2.4"/>
<line x1="1343.2" y1="275.1" x2="1346" y2="275.1" stroke="#000" stroke-width="1.7"/>
<line x1="1343.2" y1="281.2" x2="1346" y2="281.2" stroke="#000" stroke-width="1.7"/>
<line x1="1343.2" y1="287.2" x2="1346" y2="287.2" stroke="#000" stroke-width="1.7"/>
<line x1="1343.2" y1="293.3" x2="1346" y2="293.3" stroke="#000" stroke-width="1.7"/>
<line x1="1340.5" y1="299.4" x2="1346" y2="299.4" stroke="#000" stroke-width="2.4"/>
<line x1="1343.2" y1="305.4" x2="1346" y2="305.4" stroke="#000" stroke-width="1.7"/>
<line x1="1343.2" y1="311.5" x2="1346" y2="311.5" stroke="#000" stroke-width="1.7"/>
<line x1="1343.2" y1="317.6" x2="1346" y2="317.6" stroke="#000" stroke-width="1.7"/>
<line x1="1343.2" y1="323.7" x2="1346" y2="323.7" stroke="#000" stroke-width="1.7"/>
<line x1="1340.5" y1="329.7" x2="1346" y2="329.7" stroke="#000" stroke-width="2.4"/>
<line x1="1343.2" y1="335.8" x2="1346" y2="335.8" stroke="#000" stroke-width="1.7"/>
<line x1="1343.2" y1="341.9" x2="1346" y2="341.9" stroke="#000" stroke-width="1.7"/>
<line x1="1343.2" y1="347.9" x2="1346" y2="347.9" stroke="#000" stroke-width="1.7"/>
<line x1="1343.2" y1="354" x2="1346" y2="354" stroke="#000" stroke-width="1.7"/>
<line x1="1340.5" y1="360.1" x2="1346" y2="360.1" stroke="#000" stroke-width="2.4"/>
<line x1="1343.2" y1="366.1" x2="1346" y2="366.1" stroke="#000" stroke-width="1.7"/>
<line x1="1343.2" y1="372.2" x2="1346" y2="372.2" stroke="#000" stroke-width="1.7"/>
<line x1="1343.2" y1="378.3" x2="1346" y2="378.3" stroke="#000" stroke-width="1.7"/>
<line x1="1343.2" y1="384.3" x2="1346" y2="384.3" stroke="#000" stroke-width="1.7"/>
<line x1="1340.5" y1="390.4" x2="1346" y2="390.4" stroke="#000" stroke-width="2.4"/>
<line x1="1346.7" y1="391.3" x2="1346.7" y2="396.8" stroke="#000" stroke-width="2.2"/>
<line x1="1368.7" y1="391.3" x2="1368.7" y2="394.7" stroke="#000" stroke-width="1.7"/>
<line x1="1381.5" y1="391.3" x2="1381.5" y2="394.7" stroke="#000" stroke-width="1.7"/>
<line x1="1390.7" y1="391.3" x2="1390.7" y2="394.7" stroke="#000" stroke-width="1.7"/>
<line x1="1397.7" y1="391.3" x2="1397.7" y2="394.7" stroke="#000" stroke-width="1.7"/>
<line x1="1403.5" y1="391.3" x2="1403.5" y2="394.7" stroke="#000" stroke-width="1.7"/>
<line x1="1408.4" y1="391.3" x2="1408.4" y2="394.7" stroke="#000" stroke-width="1.7"/>
<line x1="1412.6" y1="391.3" x2="1412.6" y2="394.7" stroke="#000" stroke-width="1.7"/>
<line x1="1416.4" y1="391.3" x2="1416.4" y2="394.7" stroke="#000" stroke-width="1.7"/>
<line x1="1419.7" y1="391.3" x2="1419.7" y2="396.8" stroke="#000" stroke-width="2.2"/>
<line x1="1441.7" y1="391.3" x2="1441.7" y2="394.7" stroke="#000" stroke-width="1.7"/>
<line x1="1454.5" y1="391.3" x2="1454.5" y2="394.7" stroke="#000" stroke-width="1.7"/>
<line x1="1463.7" y1="391.3" x2="1463.7" y2="394.7" stroke="#000" stroke-width="1.7"/>
<line x1="1470.7" y1="391.3" x2="1470.7" y2="394.7" stroke="#000" stroke-width="1.7"/>
<line x1="1476.5" y1="391.3" x2="1476.5" y2="394.7" stroke="#000" stroke-width="1.7"/>
<line x1="1481.4" y1="391.3" x2="1481.4" y2="394.7" stroke="#000" stroke-width="1.7"/>
<line x1="1485.6" y1="391.3" x2="1485.6" y2="394.7" stroke="#000" stroke-width="1.7"/>
<line x1="1489.4" y1="391.3" x2="1489.4" y2="394.7" stroke="#000" stroke-width="1.7"/>
<line x1="1492.7" y1="391.3" x2="1492.7" y2="396.8" stroke="#000" stroke-width="2.2"/>
<line x1="1514.7" y1="391.3" x2="1514.7" y2="394.7" stroke="#000" stroke-width="1.7"/>
<line x1="1527.5" y1="391.3" x2="1527.5" y2="394.7" stroke="#000" stroke-width="1.7"/>
<line x1="1536.7" y1="391.3" x2="1536.7" y2="394.7" stroke="#000" stroke-width="1.7"/>
<line x1="1543.7" y1="391.3" x2="1543.7" y2="394.7" stroke="#000" stroke-width="1.7"/>
<line x1="1549.5" y1="391.3" x2="1549.5" y2="394.7" stroke="#000" stroke-width="1.7"/>
<line x1="1554.4" y1="391.3" x2="1554.4" y2="394.7" stroke="#000" stroke-width="1.7"/>
<line x1="1558.6" y1="391.3" x2="1558.6" y2="394.7" stroke="#000" stroke-width="1.7"/>
<line x1="1562.4" y1="391.3" x2="1562.4" y2="394.7" stroke="#000" stroke-width="1.7"/>
<line x1="1565.7" y1="391.3" x2="1565.7" y2="396.8" stroke="#000" stroke-width="2.2"/>
<line x1="1587.7" y1="391.3" x2="1587.7" y2="394.7" stroke="#000" stroke-width="1.7"/>
<line x1="1600.5" y1="391.3" x2="1600.5" y2="394.7" stroke="#000" stroke-width="1.7"/>
<line x1="1609.7" y1="391.3" x2="1609.7" y2="394.7" stroke="#000" stroke-width="1.7"/>
<line x1="1616.7" y1="391.3" x2="1616.7" y2="394.7" stroke="#000" stroke-width="1.7"/>
<line x1="1622.5" y1="391.3" x2="1622.5" y2="394.7" stroke="#000" stroke-width="1.7"/>
<line x1="1627.4" y1="391.3" x2="1627.4" y2="394.7" stroke="#000" stroke-width="1.7"/>
<line x1="1631.6" y1="391.3" x2="1631.6" y2="394.7" stroke="#000" stroke-width="1.7"/>
<line x1="1635.4" y1="391.3" x2="1635.4" y2="394.7" stroke="#000" stroke-width="1.7"/>
<line x1="1638.7" y1="391.3" x2="1638.7" y2="396.8" stroke="#000" stroke-width="2.2"/>
</g>
<text x="11.5" y="47.2" font-size="57.5" text-anchor="start" stroke="#000" stroke-width="0.85" fill="#000">A</text>
<text x="11.4" y="507.1" font-size="57.5" text-anchor="start" stroke="#000" stroke-width="0.85" fill="#000">B</text>
<text x="817.5" y="507.3" font-size="57.5" text-anchor="start" stroke="#000" stroke-width="0.85" fill="#000">C</text>
<text x="256.5" y="49.5" font-size="34" text-anchor="middle"  stroke-width="0.35">+control IgG</text>
<text x="567" y="49.5" font-size="34.5" text-anchor="middle"  stroke-width="0.35">+αIL-2 Ab</text>
<text x="878" y="49.5" font-size="34.5" text-anchor="middle"  stroke-width="0.35">+αCD25 Ab (PC61)</text>
<text x="1187.2" y="49.5" font-size="34" text-anchor="middle"  stroke-width="0.35">+control IgG</text>
<text x="1493.5" y="49.5" font-size="34.5" text-anchor="middle"  stroke-width="0.35">+αCD25 Ab (3C7)</text>
<text x="2.9" y="153.6" font-size="34.2" text-anchor="start"  stroke-width="0.35">−AQ</text>
<text x="2.9" y="330" font-size="34.2" text-anchor="start"  stroke-width="0.35">+AQ</text>
<text transform="translate(101.4 146.7) rotate(-90)" font-size="28.3" text-anchor="middle" stroke-width="0.35">Counts</text>
<text transform="translate(101.4 319.6) rotate(-90)" font-size="28.3" text-anchor="middle" stroke-width="0.35">Counts</text>
<line x1="103.7" y1="429.4" x2="148.2" y2="429.4" stroke="#000" stroke-width="2.7"/>
<text x="155.2" y="442.2" font-size="34.5" text-anchor="start"  stroke-width="0.35">CD25 (PC61)</text>
<line x1="359.7" y1="429.4" x2="398.6" y2="429.4" stroke="#000" stroke-width="2.7"/>
<path d="M404.6 429.4 L396 424.9 L396 433.9 Z" fill="#000"/>
<line x1="416.3" y1="429.4" x2="458.5" y2="429.4" stroke="#000" stroke-width="2.7"/>
<text x="466.2" y="442.2" font-size="34.5" text-anchor="start"  stroke-width="0.35">CD25 (PC61)</text>
<line x1="673" y1="429.4" x2="710.2" y2="429.4" stroke="#000" stroke-width="2.7"/>
<path d="M716.2 429.4 L707.6 424.9 L707.6 433.9 Z" fill="#000"/>
<line x1="727.7" y1="429.4" x2="770.7" y2="429.4" stroke="#000" stroke-width="2.7"/>
<text x="778" y="442.2" font-size="34.5" text-anchor="start"  stroke-width="0.35">CD25 (PC61)</text>
<line x1="985" y1="429.4" x2="1022.5" y2="429.4" stroke="#000" stroke-width="2.7"/>
<path d="M1028.5 429.4 L1019.9 424.9 L1019.9 433.9 Z" fill="#000"/>
<line x1="1038.3" y1="429.4" x2="1082" y2="429.4" stroke="#000" stroke-width="2.7"/>
<text x="1089.2" y="442.2" font-size="34.5" text-anchor="start"  stroke-width="0.35">CD25 (7D4)</text>
<line x1="1294.3" y1="429.4" x2="1332.5" y2="429.4" stroke="#000" stroke-width="2.7"/>
<path d="M1338.5 429.4 L1329.9 424.9 L1329.9 433.9 Z" fill="#000"/>
<line x1="1345" y1="429.4" x2="1388.5" y2="429.4" stroke="#000" stroke-width="2.7"/>
<text x="1396" y="442.2" font-size="34.5" text-anchor="start"  stroke-width="0.35">CD25 (7D4)</text>
<line x1="1600" y1="429.4" x2="1640.2" y2="429.4" stroke="#000" stroke-width="2.7"/>
<path d="M1646.2 429.4 L1637.6 424.9 L1637.6 433.9 Z" fill="#000"/>
<rect x="162.5" y="480.6" width="39.3" height="31.8" rx="0.8" fill="#fff" stroke="#000" stroke-width="2.6"/>
<rect x="322.3" y="480.6" width="40.3" height="31.8" rx="0.8" fill="#575757" stroke="#000" stroke-width="2.6"/>
<text x="213.1" y="508.5" font-size="34.4" text-anchor="start"  stroke-width="0.35">–<tspan dx="-1.9">AQ</tspan></text>
<text x="374.1" y="508.5" font-size="34.4" text-anchor="start"  stroke-width="0.35">+AQ</text>
<line x1="132.2" y1="519.6" x2="132.2" y2="824.8" stroke="#000" stroke-width="2.6"/>
<line x1="121.2" y1="823.5" x2="785" y2="823.5" stroke="#000" stroke-width="2.6"/>
<text x="118.9" y="836.1" font-size="34.5" text-anchor="end"  stroke-width="0.35">0</text>
<line x1="121.2" y1="780.3" x2="132.2" y2="780.3" stroke="#000" stroke-width="2.6"/>
<text x="118.9" y="792.9" font-size="34.5" text-anchor="end"  stroke-width="0.35">5</text>
<line x1="121.2" y1="737" x2="132.2" y2="737" stroke="#000" stroke-width="2.6"/>
<text x="118.9" y="749.6" font-size="34.5" text-anchor="end"  stroke-width="0.35">10</text>
<line x1="121.2" y1="693.8" x2="132.2" y2="693.8" stroke="#000" stroke-width="2.6"/>
<text x="118.9" y="706.4" font-size="34.5" text-anchor="end"  stroke-width="0.35">15</text>
<line x1="121.2" y1="650.6" x2="132.2" y2="650.6" stroke="#000" stroke-width="2.6"/>
<text x="118.9" y="663.2" font-size="34.5" text-anchor="end"  stroke-width="0.35">20</text>
<line x1="121.2" y1="607.4" x2="132.2" y2="607.4" stroke="#000" stroke-width="2.6"/>
<text x="118.9" y="620" font-size="34.5" text-anchor="end"  stroke-width="0.35">25</text>
<line x1="121.2" y1="564.1" x2="132.2" y2="564.1" stroke="#000" stroke-width="2.6"/>
<text x="118.9" y="576.7" font-size="34.5" text-anchor="end"  stroke-width="0.35">30</text>
<line x1="121.2" y1="520.9" x2="132.2" y2="520.9" stroke="#000" stroke-width="2.6"/>
<text x="118.9" y="533.5" font-size="34.5" text-anchor="end"  stroke-width="0.35">35</text>
<rect x="153.5" y="705.2" width="87" height="118.3" fill="#fff" stroke="#000" stroke-width="2.6"/>
<rect x="240.5" y="572.7" width="88.1" height="250.8" fill="#575757" stroke="#000" stroke-width="2.6"/>
<rect x="372.3" y="713.5" width="86.5" height="110" fill="#fff" stroke="#000" stroke-width="2.6"/>
<rect x="458.8" y="585.6" width="87.5" height="237.9" fill="#575757" stroke="#000" stroke-width="2.6"/>
<rect x="589.7" y="728.6" width="87.1" height="94.9" fill="#fff" stroke="#000" stroke-width="2.6"/>
<rect x="676.8" y="589.7" width="87.4" height="233.8" fill="#575757" stroke="#000" stroke-width="2.6"/>
<line x1="196.7" y1="699.5" x2="196.7" y2="711" stroke="#000" stroke-width="2.5"/>
<line x1="194.4" y1="700.6" x2="199" y2="700.6" stroke="#000" stroke-width="2.8"/>
<line x1="194.4" y1="709.9" x2="199" y2="709.9" stroke="#000" stroke-width="2.8"/>
<line x1="285" y1="564.5" x2="285" y2="580" stroke="#000" stroke-width="2.5"/>
<line x1="282.7" y1="565.6" x2="287.3" y2="565.6" stroke="#000" stroke-width="2.8"/>
<line x1="282.7" y1="578.9" x2="287.3" y2="578.9" stroke="#000" stroke-width="2.8"/>
<line x1="415.3" y1="706" x2="415.3" y2="720.5" stroke="#000" stroke-width="2.5"/>
<line x1="413" y1="707.1" x2="417.6" y2="707.1" stroke="#000" stroke-width="2.8"/>
<line x1="413" y1="719.4" x2="417.6" y2="719.4" stroke="#000" stroke-width="2.8"/>
<line x1="502.6" y1="576" x2="502.6" y2="594.8" stroke="#000" stroke-width="2.5"/>
<line x1="500.3" y1="577.1" x2="504.9" y2="577.1" stroke="#000" stroke-width="2.8"/>
<line x1="500.3" y1="593.7" x2="504.9" y2="593.7" stroke="#000" stroke-width="2.8"/>
<line x1="633.2" y1="718.8" x2="633.2" y2="738" stroke="#000" stroke-width="2.5"/>
<line x1="630.9" y1="719.9" x2="635.5" y2="719.9" stroke="#000" stroke-width="2.8"/>
<line x1="630.9" y1="736.9" x2="635.5" y2="736.9" stroke="#000" stroke-width="2.8"/>
<line x1="720.6" y1="572.6" x2="720.6" y2="606" stroke="#000" stroke-width="2.5"/>
<line x1="718.3" y1="573.7" x2="722.9" y2="573.7" stroke="#000" stroke-width="2.8"/>
<line x1="718.3" y1="604.9" x2="722.9" y2="604.9" stroke="#000" stroke-width="2.8"/>
<text x="285" y="552.5" font-size="30" text-anchor="middle" stroke-width="0.6">*</text>
<text x="500.1" y="565.1" font-size="30" text-anchor="middle" stroke-width="0.6">*</text>
<text x="722" y="569" font-size="30" text-anchor="middle" stroke-width="0.6" letter-spacing="1.9">***</text>
<text x="241" y="859" font-size="34.2" text-anchor="middle"  stroke-width="0.35">Control IgG</text>
<text x="457.9" y="859" font-size="34.6" text-anchor="middle"  stroke-width="0.35">αIL-2 Ab</text>
<text x="673.3" y="861.2" font-size="34.5" text-anchor="middle"  stroke-width="0.35">αCD25 Ab</text>
<text transform="translate(70.8 826) rotate(-90)" font-size="33.8" stroke-width="0.35">CD25 m<tspan dx="1.7">RNA </tspan><tspan dx="0.5" letter-spacing="1.5">(x10</tspan><tspan font-size="20" dy="-12.5" dx="-2.2">-</tspan><tspan font-size="20" dx="1.5">3</tspan><tspan dy="12.5" dx="-0.6">)</tspan></text>
<rect x="960.8" y="480.6" width="39.3" height="31.8" rx="0.8" fill="#fff" stroke="#000" stroke-width="2.6"/>
<rect x="1120.8" y="480.6" width="40.3" height="31.8" rx="0.8" fill="#575757" stroke="#000" stroke-width="2.6"/>
<text x="1010.6" y="508.5" font-size="34.4" text-anchor="start"  stroke-width="0.35">–<tspan dx="-1.9">AQ</tspan></text>
<text x="1172.6" y="508.5" font-size="34.4" text-anchor="start"  stroke-width="0.35">+AQ</text>
<line x1="935.8" y1="519.6" x2="935.8" y2="824.8" stroke="#000" stroke-width="2.6"/>
<line x1="936" y1="824.1" x2="1590" y2="824.1" stroke="#777" stroke-width="1.2"/>
<line x1="925.5" y1="823.5" x2="935.8" y2="823.5" stroke="#000" stroke-width="2.6"/>
<text x="926.3" y="836.1" font-size="34.5" text-anchor="end"  stroke-width="0.35">0</text>
<line x1="925.5" y1="747.8" x2="935.8" y2="747.8" stroke="#000" stroke-width="2.6"/>
<text x="926.3" y="760.4" font-size="34.5" text-anchor="end"  stroke-width="0.35">5</text>
<line x1="925.5" y1="672.1" x2="935.8" y2="672.1" stroke="#000" stroke-width="2.6"/>
<text x="926.3" y="684.7" font-size="34.5" text-anchor="end"  stroke-width="0.35">10</text>
<line x1="925.5" y1="596.4" x2="935.8" y2="596.4" stroke="#000" stroke-width="2.6"/>
<text x="926.3" y="609" font-size="34.5" text-anchor="end"  stroke-width="0.35">15</text>
<line x1="925.5" y1="520.7" x2="935.8" y2="520.7" stroke="#000" stroke-width="2.6"/>
<text x="926.3" y="533.3" font-size="34.5" text-anchor="end"  stroke-width="0.35">20</text>
<rect x="958.2" y="589" width="87.1" height="234.5" fill="#fff" stroke="#000" stroke-width="2.6"/>
<rect x="1045.3" y="578.3" width="86.9" height="245.2" fill="#575757" stroke="#000" stroke-width="2.6"/>
<rect x="1176" y="603.3" width="86.8" height="220.2" fill="#fff" stroke="#000" stroke-width="2.6"/>
<rect x="1262.8" y="581" width="87.2" height="242.5" fill="#575757" stroke="#000" stroke-width="2.6"/>
<rect x="1393.2" y="599.6" width="87.6" height="223.9" fill="#fff" stroke="#000" stroke-width="2.6"/>
<rect x="1480.8" y="578.5" width="86.8" height="245" fill="#575757" stroke="#000" stroke-width="2.6"/>
<line x1="1001.7" y1="575.7" x2="1001.7" y2="602.3" stroke="#000" stroke-width="2.5"/>
<line x1="999.4" y1="576.8" x2="1004" y2="576.8" stroke="#000" stroke-width="2.8"/>
<line x1="999.4" y1="601.2" x2="1004" y2="601.2" stroke="#000" stroke-width="2.8"/>
<line x1="1089.3" y1="570.7" x2="1089.3" y2="585.7" stroke="#000" stroke-width="2.5"/>
<line x1="1087" y1="571.8" x2="1091.6" y2="571.8" stroke="#000" stroke-width="2.8"/>
<line x1="1087" y1="584.6" x2="1091.6" y2="584.6" stroke="#000" stroke-width="2.8"/>
<line x1="1220" y1="580" x2="1220" y2="626.7" stroke="#000" stroke-width="2.5"/>
<line x1="1217.7" y1="581.1" x2="1222.3" y2="581.1" stroke="#000" stroke-width="2.8"/>
<line x1="1217.7" y1="625.6" x2="1222.3" y2="625.6" stroke="#000" stroke-width="2.8"/>
<line x1="1306.8" y1="572.5" x2="1306.8" y2="588.4" stroke="#000" stroke-width="2.5"/>
<line x1="1304.5" y1="573.6" x2="1309.1" y2="573.6" stroke="#000" stroke-width="2.8"/>
<line x1="1304.5" y1="587.3" x2="1309.1" y2="587.3" stroke="#000" stroke-width="2.8"/>
<line x1="1437.2" y1="592" x2="1437.2" y2="606.8" stroke="#000" stroke-width="2.5"/>
<line x1="1434.9" y1="593.1" x2="1439.5" y2="593.1" stroke="#000" stroke-width="2.8"/>
<line x1="1434.9" y1="605.7" x2="1439.5" y2="605.7" stroke="#000" stroke-width="2.8"/>
<line x1="1524.4" y1="575.6" x2="1524.4" y2="580.3" stroke="#000" stroke-width="2.5"/>
<rect x="1522.1" y="575.6" width="4.6" height="4.7" fill="#000"/>
<text x="1045.6" y="859" font-size="34.2" text-anchor="middle"  stroke-width="0.35">Control IgG</text>
<text x="1262.8" y="859" font-size="34.6" text-anchor="middle"  stroke-width="0.35">αIL-2 Ab</text>
<text x="1477.2" y="861.2" font-size="34.5" text-anchor="middle"  stroke-width="0.35">αCD25 Ab</text>
<text transform="translate(873.3 840.2) rotate(-90)" font-size="33.8" stroke-width="0.35">CD132 m<tspan dx="1.7">RNA </tspan><tspan dx="0.5" letter-spacing="1.5">(x10</tspan><tspan font-size="20" dy="-12.5" dx="-2.2">-</tspan><tspan font-size="20" dx="1.5">2</tspan><tspan dy="12.5" dx="-0.6">)</tspan></text>
</svg>
</body>
</html>
